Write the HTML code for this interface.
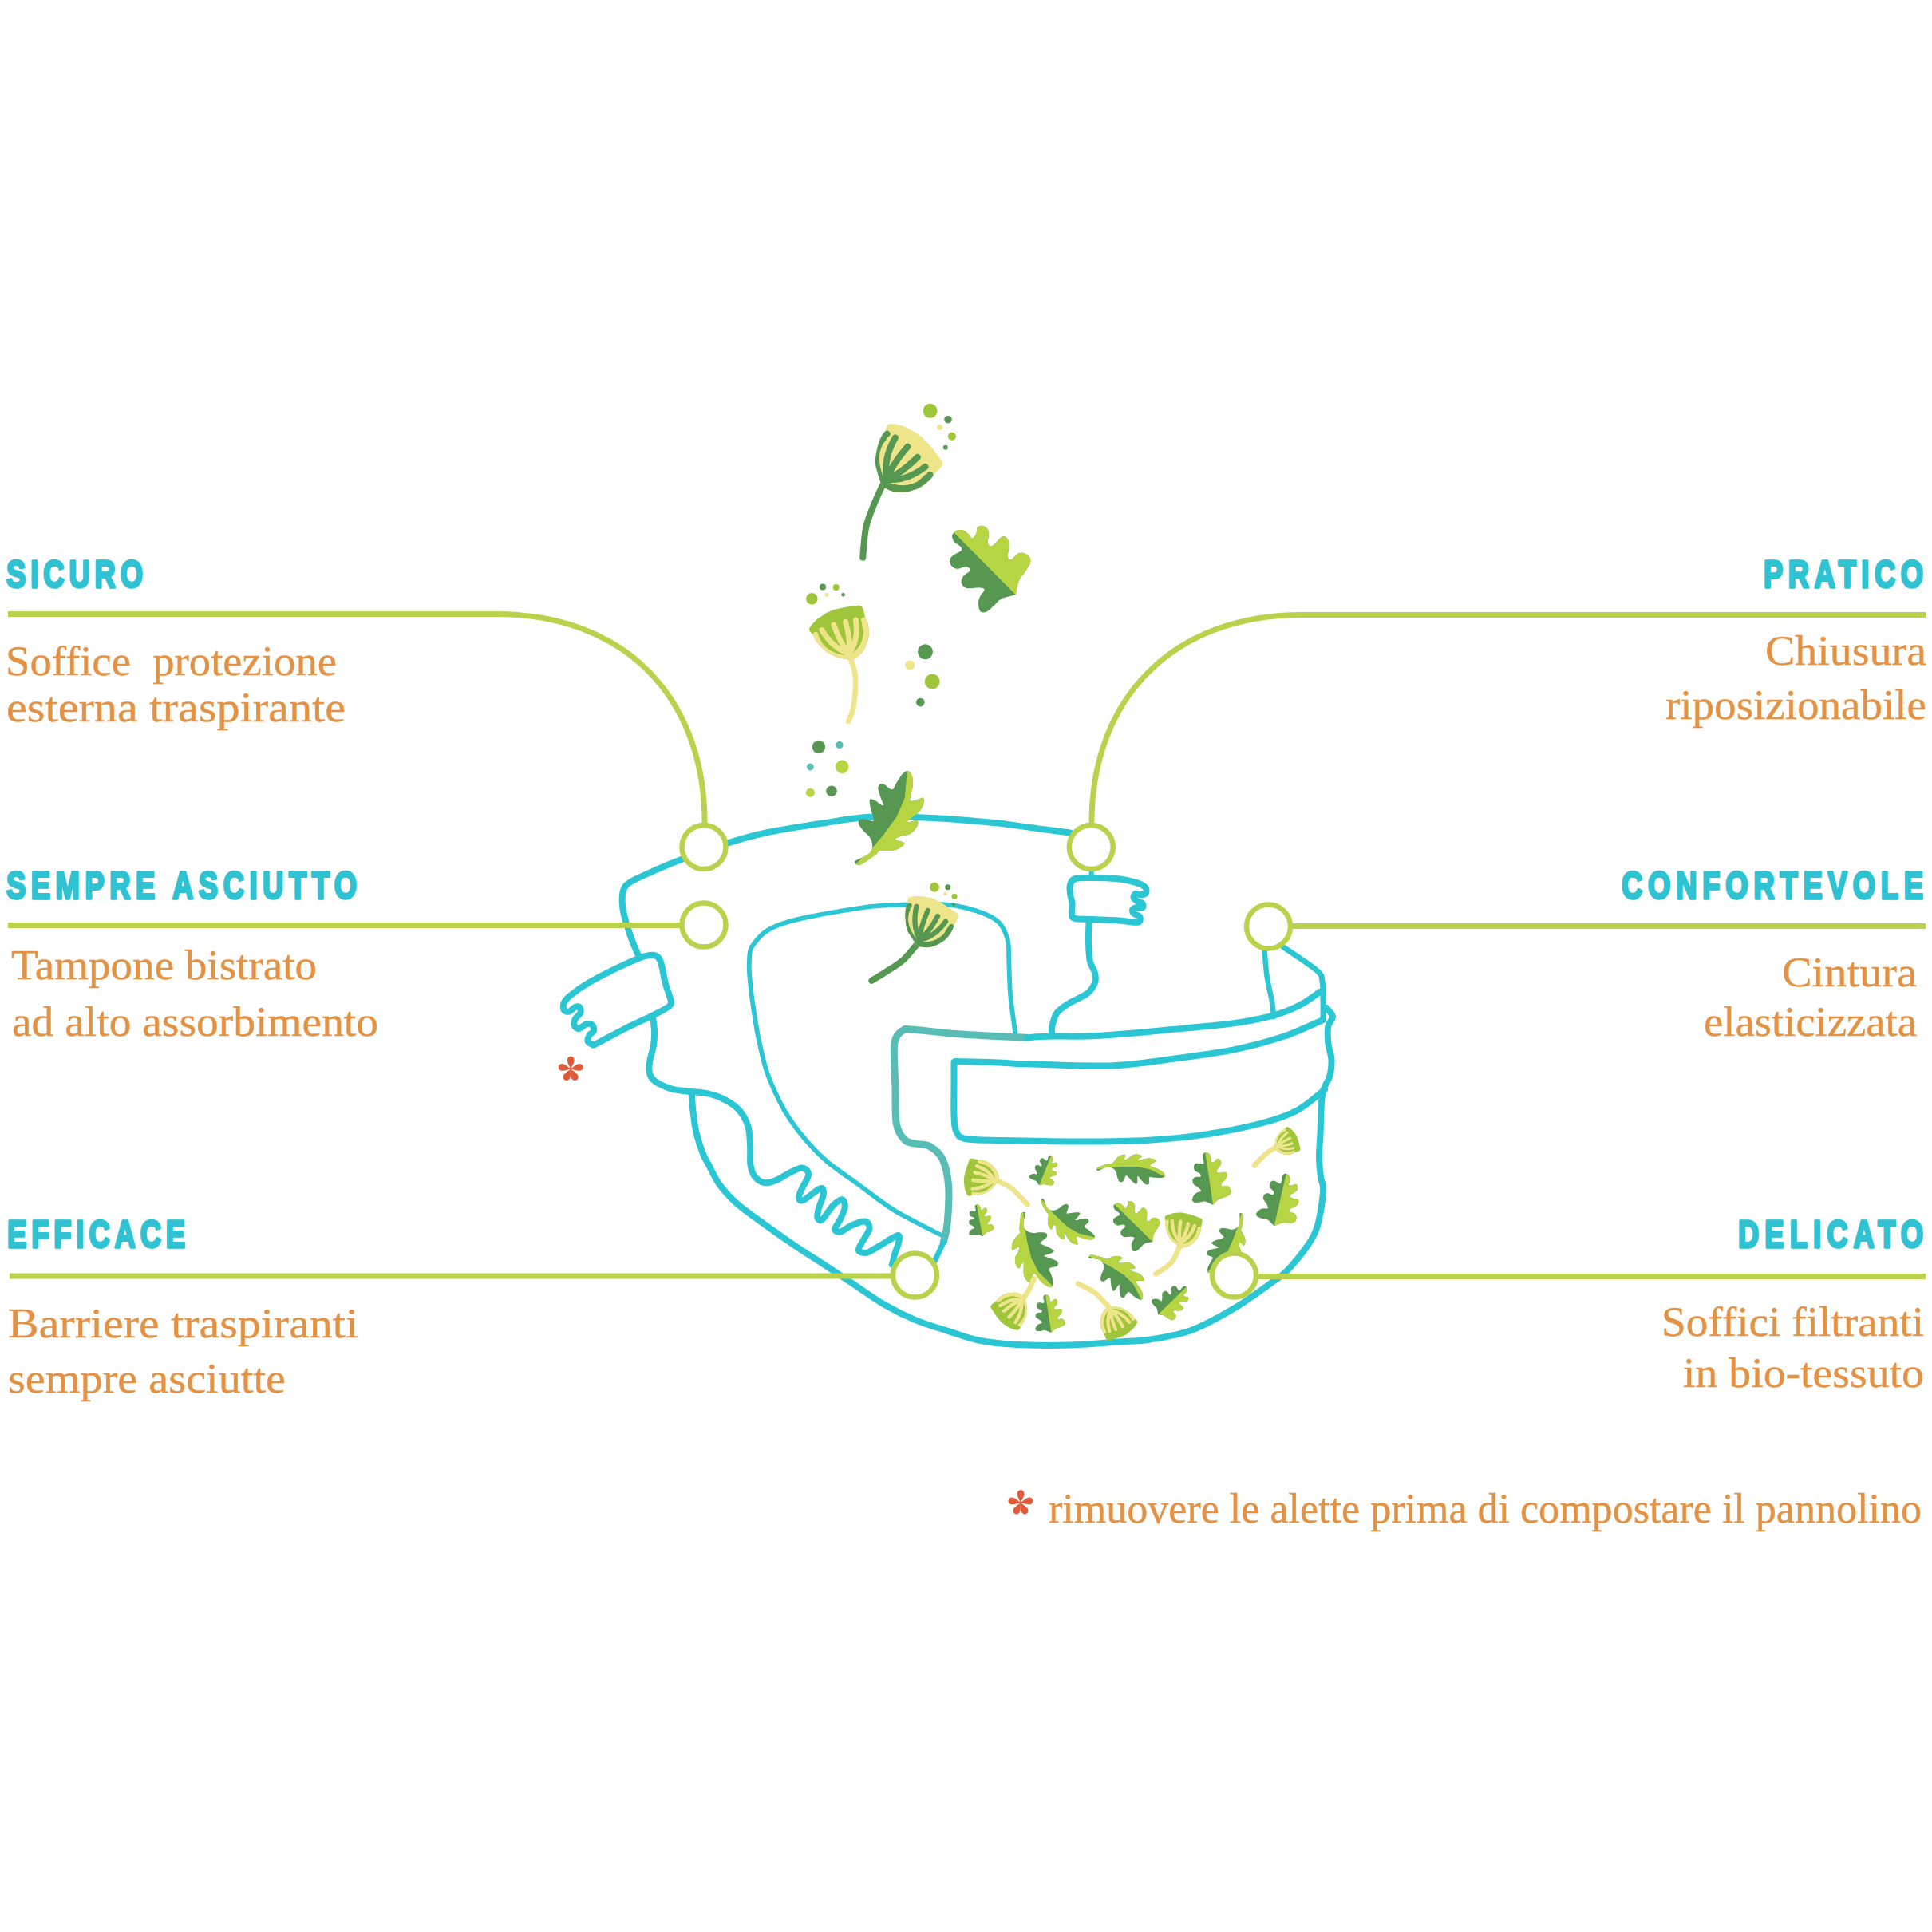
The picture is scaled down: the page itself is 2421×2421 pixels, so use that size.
<!DOCTYPE html>
<html><head><meta charset="utf-8">
<style>
html,body{margin:0;padding:0;background:#fff;}
body{width:2421px;height:2421px;overflow:hidden;}
svg{display:block;}
.h{font-family:"Liberation Sans",sans-serif;font-weight:bold;font-size:49px;fill:#2ec2d2;stroke:#2ec2d2;stroke-width:3.4;stroke-linejoin:round;}
.b{font-family:"Liberation Serif",serif;font-size:53px;fill:#e39244;stroke:#e39244;stroke-width:0.4;}
</style></head><body>
<svg width="2421" height="2421" viewBox="0 0 2421 2421">

<g class="h">
<text transform="translate(8,736) scale(0.74,1)" x="0" y="0" textLength="231.1" lengthAdjust="spacing">SICURO</text>
<text transform="translate(8,1126) scale(0.74,1)" x="0" y="0" textLength="593.2" lengthAdjust="spacing">SEMPRE ASCIUTTO</text>
<text transform="translate(9,1563) scale(0.74,1)" x="0" y="0" textLength="301.4" lengthAdjust="spacing">EFFICACE</text>
<text transform="translate(2210,736) scale(0.74,1)" x="0" y="0" textLength="270.3" lengthAdjust="spacing">PRATICO</text>
<text transform="translate(2032,1126) scale(0.74,1)" x="0" y="0" textLength="510.8" lengthAdjust="spacing">CONFORTEVOLE</text>
<text transform="translate(2178,1563) scale(0.74,1)" x="0" y="0" textLength="313.5" lengthAdjust="spacing">DELICATO</text>
</g>
<g class="b">
<text x="7" y="846" textLength="415" lengthAdjust="spacingAndGlyphs" xml:space="preserve">Soffice  protezione</text>
<text x="8" y="904" textLength="425" lengthAdjust="spacingAndGlyphs">esterna traspirante</text>
<text x="14" y="1227" textLength="383" lengthAdjust="spacingAndGlyphs">Tampone bistrato</text>
<text x="15" y="1298" textLength="459" lengthAdjust="spacingAndGlyphs">ad alto assorbimento</text>
<text x="10" y="1676" textLength="439" lengthAdjust="spacingAndGlyphs">Barriere traspiranti</text>
<text x="10" y="1745" textLength="348" lengthAdjust="spacingAndGlyphs">sempre asciutte</text>
<text x="2212" y="833" textLength="202" lengthAdjust="spacingAndGlyphs">Chiusura</text>
<text x="2087" y="901" textLength="327" lengthAdjust="spacingAndGlyphs">riposizionabile</text>
<text x="2233" y="1236" textLength="169" lengthAdjust="spacingAndGlyphs">Cintura</text>
<text x="2135" y="1298" textLength="267" lengthAdjust="spacingAndGlyphs">elasticizzata</text>
<text x="2082" y="1674" textLength="329" lengthAdjust="spacingAndGlyphs">Soffici filtranti</text>
<text x="2109" y="1738" textLength="302" lengthAdjust="spacingAndGlyphs">in bio-tessuto</text>
<text x="1314" y="1908" textLength="1094" lengthAdjust="spacingAndGlyphs">rimuovere le alette prima di compostare il pannolino</text>
</g>
<g transform="translate(1279.0,1883.0) scale(1.107)"><path transform="rotate(0)" d="M0,0 C-1.2,-3 -4,-7 -4,-10.2 A4,4 0 0 1 4,-10.2 C4,-7 1.2,-3 0,0Z" fill="#e05a3a"/><path transform="rotate(79)" d="M0,0 C-1.2,-3 -4,-7 -4,-10.2 A4,4 0 0 1 4,-10.2 C4,-7 1.2,-3 0,0Z" fill="#e05a3a"/><path transform="rotate(-79)" d="M0,0 C-1.2,-3 -4,-7 -4,-10.2 A4,4 0 0 1 4,-10.2 C4,-7 1.2,-3 0,0Z" fill="#e05a3a"/><path transform="rotate(153)" d="M0,0 C-1.2,-3 -4,-7 -4,-10.2 A4,4 0 0 1 4,-10.2 C4,-7 1.2,-3 0,0Z" fill="#e05a3a"/><path transform="rotate(-153)" d="M0,0 C-1.2,-3 -4,-7 -4,-10.2 A4,4 0 0 1 4,-10.2 C4,-7 1.2,-3 0,0Z" fill="#e05a3a"/><circle r="1.6" fill="#e05a3a"/></g>
<g transform="translate(715.2,1339.5) scale(1.107)"><path transform="rotate(0)" d="M0,0 C-1.2,-3 -4,-7 -4,-10.2 A4,4 0 0 1 4,-10.2 C4,-7 1.2,-3 0,0Z" fill="#e05a3a"/><path transform="rotate(79)" d="M0,0 C-1.2,-3 -4,-7 -4,-10.2 A4,4 0 0 1 4,-10.2 C4,-7 1.2,-3 0,0Z" fill="#e05a3a"/><path transform="rotate(-79)" d="M0,0 C-1.2,-3 -4,-7 -4,-10.2 A4,4 0 0 1 4,-10.2 C4,-7 1.2,-3 0,0Z" fill="#e05a3a"/><path transform="rotate(153)" d="M0,0 C-1.2,-3 -4,-7 -4,-10.2 A4,4 0 0 1 4,-10.2 C4,-7 1.2,-3 0,0Z" fill="#e05a3a"/><path transform="rotate(-153)" d="M0,0 C-1.2,-3 -4,-7 -4,-10.2 A4,4 0 0 1 4,-10.2 C4,-7 1.2,-3 0,0Z" fill="#e05a3a"/><circle r="1.6" fill="#e05a3a"/></g>
<defs><clipPath id="oakR"><rect x="0" y="-80" width="80" height="160"/></clipPath><clipPath id="aruR"><path d="M0.0,-90.0 L-0.2,-49.3 L10.0,-26.0 L11.8,-6.8 L9.0,14.9 L5.5,31.8 L-0.0,50.0 L0.0,90.0 L80.0,90.0 L80.0,-90.0 Z"/></clipPath></defs>
<path d="M1106.0,608.0 C1104.0,612.5 1097.5,626.0 1094.0,635.0 C1090.5,644.0 1087.1,651.4 1085.0,662.0 C1082.9,672.6 1081.8,692.5 1081.2,698.6" fill="none" stroke="#569852" stroke-width="8" stroke-linecap="round"/>
<g transform="translate(1107.1,605.4) rotate(42.0) scale(1.086)"><path d="M-38.1,-44.7 C-38.6,-47.5 -42.5,-51.8 -40.9,-54.9 C-39.3,-58.0 -32.5,-61.2 -28.6,-63.2 C-24.7,-65.2 -21.5,-65.7 -17.7,-66.7 C-13.9,-67.7 -10.2,-68.8 -5.7,-69.0 C-1.2,-69.2 3.9,-68.8 9.1,-68.2 C14.3,-67.6 21.1,-66.7 25.7,-65.5 C30.3,-64.3 34.8,-64.9 36.6,-61.2 C38.4,-57.5 36.3,-47.4 36.4,-43.4 C36.5,-39.4 37.5,-40.2 37.2,-37.0 C36.9,-33.8 36.0,-28.0 34.7,-24.2 C33.4,-20.4 31.4,-17.4 29.4,-14.4 C27.4,-11.4 25.2,-8.6 22.6,-6.2 C20.1,-3.8 16.8,-1.5 14.1,0.0 C11.4,1.5 9.0,2.1 6.6,2.6 C4.2,3.1 3.6,4.5 -0.2,3.0 C-4.0,1.5 -12.3,-3.7 -16.4,-6.4 C-20.5,-9.1 -21.8,-9.8 -24.6,-13.2 C-27.4,-16.6 -30.9,-22.5 -33.1,-26.6 C-35.3,-30.7 -36.9,-35.0 -37.7,-38.0 C-38.5,-41.0 -37.6,-41.9 -38.1,-44.7Z" fill="#eee48a"/><path d="M-38.1,-44.7 C-39.1,-44.0 -38.5,-41.0 -37.7,-38.0 C-36.9,-35.0 -35.3,-30.7 -33.1,-26.6 C-30.9,-22.5 -27.4,-16.6 -24.6,-13.2 C-21.8,-9.8 -20.5,-9.1 -16.4,-6.4 C-12.3,-3.7 -4.0,1.5 -0.2,3.0 C3.6,4.5 4.2,3.1 6.6,2.6 C9.0,2.1 11.4,1.5 14.1,0.0 C16.8,-1.5 20.1,-3.8 22.6,-6.2 C25.2,-8.6 27.4,-11.4 29.4,-14.4 C31.4,-17.4 33.4,-20.4 34.7,-24.2 C36.0,-28.0 36.9,-33.8 37.2,-37.0 C37.5,-40.2 37.6,-42.7 36.4,-43.4 C35.2,-44.1 31.4,-43.6 30.0,-41.0 C28.6,-38.4 29.3,-32.0 28.0,-28.0 C26.7,-24.0 24.5,-20.2 22.0,-17.0 C19.5,-13.8 16.0,-11.0 13.0,-9.0 C10.0,-7.0 7.2,-5.5 4.0,-5.0 C0.8,-4.5 -2.7,-4.8 -6.0,-6.0 C-9.3,-7.2 -12.8,-9.5 -16.0,-12.0 C-19.2,-14.5 -22.7,-17.8 -25.0,-21.0 C-27.3,-24.2 -28.8,-27.5 -30.0,-31.0 C-31.2,-34.5 -30.6,-39.7 -32.0,-42.0 C-33.4,-44.3 -37.1,-45.4 -38.1,-44.7Z" fill="#569852"/><path d="M0,-6 Q-19.0,-20.0 -25.0,-48.1 M0,-6 Q-7.0,-22.0 -7.4,-49.8 M0,-6 Q8.0,-22.0 9.2,-48.5 M0,-6 Q18.0,-18.0 23.2,-46.3 M-35,-45 L-35,-45 M33.5,-43 L33.5,-43" fill="none" stroke="#569852" stroke-width="7.4" stroke-linecap="round"/></g>
<circle cx="1165.6" cy="514.8" r="9.0" fill="#9fc63a"/>
<circle cx="1188.0" cy="525.7" r="4.8" fill="#569852"/>
<circle cx="1177.7" cy="535.4" r="3.4" fill="#eee48a"/>
<circle cx="1193.0" cy="546.8" r="5.0" fill="#9fc63a"/>
<circle cx="1184.8" cy="560.7" r="3.0" fill="#569852"/>
<g transform="translate(1234.0,706.2) rotate(-44.8) scale(1.093,1.093)"><path d="M-0.0,-50.0 C1.6,-50.0 3.6,-49.9 5.2,-48.8 C6.8,-47.7 8.8,-45.8 9.7,-43.6 C10.6,-41.4 10.4,-37.8 10.5,-35.6 C10.6,-33.4 9.0,-31.1 10.1,-30.4 C11.2,-29.7 15.2,-30.4 17.3,-31.2 C19.4,-32.0 21.2,-34.9 23.0,-35.2 C24.8,-35.5 27.0,-34.7 28.2,-33.2 C29.4,-31.7 30.5,-28.6 30.2,-26.4 C29.9,-24.2 27.9,-21.9 26.2,-20.0 C24.5,-18.1 21.1,-16.9 19.8,-15.1 C18.5,-13.3 17.5,-10.3 18.6,-9.1 C19.7,-7.9 23.9,-8.0 26.3,-7.9 C28.7,-7.8 31.2,-8.7 33.1,-8.4 C35.0,-8.1 37.1,-7.5 37.9,-6.0 C38.6,-4.5 38.6,-1.3 37.6,0.9 C36.6,3.1 34.2,5.3 32.0,7.3 C29.8,9.2 25.6,10.8 24.3,12.6 C23.0,14.4 22.8,17.2 24.4,18.2 C25.9,19.2 31.1,17.9 33.6,18.5 C36.1,19.1 38.2,20.2 39.6,22.1 C41.0,24.0 42.0,27.5 41.7,29.8 C41.5,32.1 40.4,34.3 38.1,35.8 C35.8,37.3 31.7,38.0 27.7,39.0 C23.7,40.0 18.4,39.8 14.0,41.5 C9.7,43.2 3.9,47.8 1.6,49.2 C-0.7,50.6 1.1,50.3 -0.0,50.0 C-1.1,49.7 -2.2,48.9 -4.8,47.6 C-7.3,46.3 -11.6,43.0 -15.3,42.0 C-19.0,41.0 -23.1,42.0 -26.9,41.7 C-30.6,41.5 -35.2,41.6 -37.8,40.5 C-40.3,39.4 -42.3,37.6 -42.2,35.3 C-42.1,33.0 -39.1,29.0 -37.0,26.9 C-34.9,24.8 -32.3,23.7 -29.8,22.8 C-27.3,21.9 -23.6,22.3 -22.2,21.6 C-20.8,20.9 -20.7,19.9 -21.4,18.4 C-22.1,16.9 -24.1,15.0 -26.3,12.8 C-28.5,10.6 -33.3,7.8 -34.7,5.2 C-36.1,2.6 -35.9,-0.9 -34.8,-2.9 C-33.7,-4.9 -31.0,-6.4 -28.3,-6.9 C-25.6,-7.4 -20.7,-5.8 -18.7,-6.1 C-16.7,-6.4 -16.4,-7.4 -16.3,-8.6 C-16.2,-9.8 -16.5,-11.3 -18.3,-13.0 C-20.1,-14.7 -25.5,-16.3 -27.2,-18.6 C-28.9,-20.9 -29.1,-24.7 -28.4,-27.0 C-27.7,-29.3 -25.5,-31.5 -23.2,-32.2 C-20.9,-32.9 -17.3,-31.6 -14.8,-31.1 C-12.3,-30.7 -9.9,-29.1 -8.4,-29.5 C-6.9,-29.9 -6.2,-31.3 -6.0,-33.5 C-5.8,-35.7 -7.5,-40.2 -7.2,-42.7 C-6.9,-45.2 -5.6,-47.6 -4.4,-48.8 C-3.2,-50.0 -1.6,-50.0 -0.0,-50.0Z" fill="#569852"/><path d="M-0.0,-50.0 C1.6,-50.0 3.6,-49.9 5.2,-48.8 C6.8,-47.7 8.8,-45.8 9.7,-43.6 C10.6,-41.4 10.4,-37.8 10.5,-35.6 C10.6,-33.4 9.0,-31.1 10.1,-30.4 C11.2,-29.7 15.2,-30.4 17.3,-31.2 C19.4,-32.0 21.2,-34.9 23.0,-35.2 C24.8,-35.5 27.0,-34.7 28.2,-33.2 C29.4,-31.7 30.5,-28.6 30.2,-26.4 C29.9,-24.2 27.9,-21.9 26.2,-20.0 C24.5,-18.1 21.1,-16.9 19.8,-15.1 C18.5,-13.3 17.5,-10.3 18.6,-9.1 C19.7,-7.9 23.9,-8.0 26.3,-7.9 C28.7,-7.8 31.2,-8.7 33.1,-8.4 C35.0,-8.1 37.1,-7.5 37.9,-6.0 C38.6,-4.5 38.6,-1.3 37.6,0.9 C36.6,3.1 34.2,5.3 32.0,7.3 C29.8,9.2 25.6,10.8 24.3,12.6 C23.0,14.4 22.8,17.2 24.4,18.2 C25.9,19.2 31.1,17.9 33.6,18.5 C36.1,19.1 38.2,20.2 39.6,22.1 C41.0,24.0 42.0,27.5 41.7,29.8 C41.5,32.1 40.4,34.3 38.1,35.8 C35.8,37.3 31.7,38.0 27.7,39.0 C23.7,40.0 18.4,39.8 14.0,41.5 C9.7,43.2 3.9,47.8 1.6,49.2 C-0.7,50.6 1.1,50.3 -0.0,50.0 C-1.1,49.7 -2.2,48.9 -4.8,47.6 C-7.3,46.3 -11.6,43.0 -15.3,42.0 C-19.0,41.0 -23.1,42.0 -26.9,41.7 C-30.6,41.5 -35.2,41.6 -37.8,40.5 C-40.3,39.4 -42.3,37.6 -42.2,35.3 C-42.1,33.0 -39.1,29.0 -37.0,26.9 C-34.9,24.8 -32.3,23.7 -29.8,22.8 C-27.3,21.9 -23.6,22.3 -22.2,21.6 C-20.8,20.9 -20.7,19.9 -21.4,18.4 C-22.1,16.9 -24.1,15.0 -26.3,12.8 C-28.5,10.6 -33.3,7.8 -34.7,5.2 C-36.1,2.6 -35.9,-0.9 -34.8,-2.9 C-33.7,-4.9 -31.0,-6.4 -28.3,-6.9 C-25.6,-7.4 -20.7,-5.8 -18.7,-6.1 C-16.7,-6.4 -16.4,-7.4 -16.3,-8.6 C-16.2,-9.8 -16.5,-11.3 -18.3,-13.0 C-20.1,-14.7 -25.5,-16.3 -27.2,-18.6 C-28.9,-20.9 -29.1,-24.7 -28.4,-27.0 C-27.7,-29.3 -25.5,-31.5 -23.2,-32.2 C-20.9,-32.9 -17.3,-31.6 -14.8,-31.1 C-12.3,-30.7 -9.9,-29.1 -8.4,-29.5 C-6.9,-29.9 -6.2,-31.3 -6.0,-33.5 C-5.8,-35.7 -7.5,-40.2 -7.2,-42.7 C-6.9,-45.2 -5.6,-47.6 -4.4,-48.8 C-3.2,-50.0 -1.6,-50.0 -0.0,-50.0Z" fill="#b7d543" clip-path="url(#oakR)"/></g>
<path d="M1066.0,825.5 C1067.0,829.4 1071.4,838.9 1072.0,849.0 C1072.6,859.1 1070.9,877.2 1069.4,886.3 C1067.9,895.4 1064.2,900.8 1063.2,903.7" fill="none" stroke="#eee48a" stroke-width="6.5" stroke-linecap="round"/>
<g transform="translate(1065.7,824.2) rotate(-18.5) scale(0.920)"><path d="M-38.1,-44.7 C-38.6,-47.5 -42.5,-51.8 -40.9,-54.9 C-39.3,-58.0 -32.5,-61.2 -28.6,-63.2 C-24.7,-65.2 -21.5,-65.7 -17.7,-66.7 C-13.9,-67.7 -10.2,-68.8 -5.7,-69.0 C-1.2,-69.2 3.9,-68.8 9.1,-68.2 C14.3,-67.6 21.1,-66.7 25.7,-65.5 C30.3,-64.3 34.8,-64.9 36.6,-61.2 C38.4,-57.5 36.3,-47.4 36.4,-43.4 C36.5,-39.4 37.5,-40.2 37.2,-37.0 C36.9,-33.8 36.0,-28.0 34.7,-24.2 C33.4,-20.4 31.4,-17.4 29.4,-14.4 C27.4,-11.4 25.2,-8.6 22.6,-6.2 C20.1,-3.8 16.8,-1.5 14.1,0.0 C11.4,1.5 9.0,2.1 6.6,2.6 C4.2,3.1 3.6,4.5 -0.2,3.0 C-4.0,1.5 -12.3,-3.7 -16.4,-6.4 C-20.5,-9.1 -21.8,-9.8 -24.6,-13.2 C-27.4,-16.6 -30.9,-22.5 -33.1,-26.6 C-35.3,-30.7 -36.9,-35.0 -37.7,-38.0 C-38.5,-41.0 -37.6,-41.9 -38.1,-44.7Z" fill="#9fc63a"/><path d="M-38.1,-44.7 C-39.1,-44.0 -38.5,-41.0 -37.7,-38.0 C-36.9,-35.0 -35.3,-30.7 -33.1,-26.6 C-30.9,-22.5 -27.4,-16.6 -24.6,-13.2 C-21.8,-9.8 -20.5,-9.1 -16.4,-6.4 C-12.3,-3.7 -4.0,1.5 -0.2,3.0 C3.6,4.5 4.2,3.1 6.6,2.6 C9.0,2.1 11.4,1.5 14.1,0.0 C16.8,-1.5 20.1,-3.8 22.6,-6.2 C25.2,-8.6 27.4,-11.4 29.4,-14.4 C31.4,-17.4 33.4,-20.4 34.7,-24.2 C36.0,-28.0 36.9,-33.8 37.2,-37.0 C37.5,-40.2 37.6,-42.7 36.4,-43.4 C35.2,-44.1 31.4,-43.6 30.0,-41.0 C28.6,-38.4 29.3,-32.0 28.0,-28.0 C26.7,-24.0 24.5,-20.2 22.0,-17.0 C19.5,-13.8 16.0,-11.0 13.0,-9.0 C10.0,-7.0 7.2,-5.5 4.0,-5.0 C0.8,-4.5 -2.7,-4.8 -6.0,-6.0 C-9.3,-7.2 -12.8,-9.5 -16.0,-12.0 C-19.2,-14.5 -22.7,-17.8 -25.0,-21.0 C-27.3,-24.2 -28.8,-27.5 -30.0,-31.0 C-31.2,-34.5 -30.6,-39.7 -32.0,-42.0 C-33.4,-44.3 -37.1,-45.4 -38.1,-44.7Z" fill="#eee48a"/><path d="M0,-6 Q-19.0,-20.0 -25.0,-48.1 M0,-6 Q-7.0,-22.0 -7.4,-49.8 M0,-6 Q8.0,-22.0 9.2,-48.5 M0,-6 Q18.0,-18.0 23.2,-46.3 M-35,-45 L-35,-45 M33.5,-43 L33.5,-43" fill="none" stroke="#eee48a" stroke-width="7.4" stroke-linecap="round"/></g>
<circle cx="1017.3" cy="750.3" r="7.2" fill="#9fc63a"/>
<circle cx="1031.0" cy="735.4" r="4.0" fill="#569852"/>
<circle cx="1047.7" cy="736.0" r="4.0" fill="#9fc63a"/>
<circle cx="1035.9" cy="745.3" r="2.5" fill="#eee48a"/>
<circle cx="1056.6" cy="745.3" r="2.3" fill="#569852"/>
<circle cx="1159.5" cy="816.8" r="9.5" fill="#569852"/>
<circle cx="1140.2" cy="833.5" r="6.0" fill="#eee48a"/>
<circle cx="1168.2" cy="854.0" r="9.5" fill="#9fc63a"/>
<circle cx="1153.3" cy="880.1" r="5.3" fill="#569852"/>
<circle cx="1026.0" cy="936.0" r="8.2" fill="#569852"/>
<circle cx="1052.0" cy="933.5" r="4.6" fill="#58bdb5"/>
<circle cx="1015.4" cy="960.9" r="4.5" fill="#58bdb5"/>
<circle cx="1055.2" cy="960.9" r="8.4" fill="#b7d543"/>
<circle cx="1015.4" cy="993.2" r="5.5" fill="#b7d543"/>
<circle cx="1042.0" cy="991.3" r="6.8" fill="#569852"/>
<path d="M1341.0,1043.5 C1335.5,1042.8 1323.6,1041.4 1307.7,1039.3 C1291.8,1037.2 1269.8,1033.4 1245.6,1031.0 C1221.4,1028.6 1188.4,1026.0 1162.8,1024.8 C1137.2,1023.6 1114.0,1022.5 1091.8,1023.6 C1069.6,1024.8 1051.7,1028.4 1029.7,1031.7 C1007.7,1035.0 979.6,1039.4 960.0,1043.5 C940.4,1047.6 929.7,1050.9 912.2,1056.4 C894.7,1061.9 870.2,1071.0 855.2,1076.6 C840.2,1082.2 832.8,1085.3 822.1,1090.0 C811.4,1094.7 797.7,1100.6 791.0,1104.6 C784.3,1108.6 783.6,1110.4 781.7,1114.0 C779.8,1117.6 779.9,1121.7 779.7,1126.0 C779.5,1130.3 779.7,1134.2 780.7,1140.0 C781.7,1145.8 783.8,1153.6 785.9,1160.5 C788.0,1167.4 790.8,1175.3 793.1,1181.2 C795.4,1187.1 798.4,1193.5 799.5,1196.0" fill="none" stroke="#2ac6d3" stroke-width="8" stroke-linecap="round" stroke-linejoin="round"/>
<path d="M818.6,1196.8 C821.9,1197.3 824.1,1198.8 826.0,1201.4 C827.9,1204.0 828.5,1207.6 829.8,1212.6 C831.0,1217.6 832.0,1225.3 833.5,1231.2 C835.0,1237.1 837.8,1243.8 839.0,1248.0 C840.2,1252.2 841.3,1254.1 841.0,1256.4 C840.7,1258.7 840.9,1259.4 837.2,1262.0 C833.5,1264.6 827.6,1267.7 818.6,1272.2 C809.6,1276.7 795.0,1283.1 783.2,1289.0 C771.4,1294.9 754.6,1304.3 747.8,1307.6 C741.0,1310.9 744.1,1309.1 742.2,1308.6 C740.3,1308.1 737.2,1306.7 736.6,1304.8 C736.0,1302.9 737.2,1299.6 738.4,1297.4 C739.6,1295.2 743.4,1294.0 744.0,1291.8 C744.6,1289.6 743.8,1285.8 742.2,1284.4 C740.7,1283.0 737.5,1282.6 734.7,1283.4 C731.9,1284.2 727.9,1288.7 725.4,1289.0 C722.9,1289.3 720.6,1287.3 719.8,1285.3 C719.0,1283.3 719.5,1279.6 720.7,1276.9 C722.0,1274.2 726.4,1271.9 727.3,1269.4 C728.2,1266.9 727.4,1263.2 726.3,1262.0 C725.2,1260.8 722.9,1261.1 720.7,1262.0 C718.5,1262.9 715.6,1267.0 713.3,1267.6 C711.0,1268.2 707.9,1267.6 706.8,1265.7 C705.7,1263.8 705.4,1259.5 706.8,1256.4 C708.2,1253.3 710.2,1251.0 715.2,1247.0 C720.2,1243.0 728.4,1237.2 736.6,1232.2 C744.8,1227.2 755.2,1222.0 764.5,1217.3 C773.8,1212.6 785.5,1207.3 792.5,1204.2 C799.5,1201.1 802.1,1199.8 806.5,1198.6 C810.9,1197.4 815.4,1196.3 818.6,1196.8Z" fill="none" stroke="#2ac6d3" stroke-width="8" stroke-linecap="round" stroke-linejoin="round"/>
<path d="M817.6,1273.0 C818.0,1276.0 819.8,1284.9 820.0,1291.0 C820.2,1297.1 819.9,1303.7 819.0,1309.7 C818.1,1315.8 815.8,1322.1 814.8,1327.3 C813.8,1332.5 812.9,1336.7 813.3,1340.7 C813.6,1344.7 814.8,1348.2 816.9,1351.1 C819.0,1354.0 822.1,1356.0 826.2,1358.3 C830.4,1360.5 835.8,1363.0 841.8,1364.6 C847.8,1366.2 855.6,1366.8 862.5,1367.7 C869.4,1368.6 876.3,1368.3 883.2,1369.7 C890.1,1371.1 897.0,1372.6 903.9,1375.9 C910.8,1379.2 919.1,1383.7 924.6,1389.4 C930.1,1395.1 934.4,1402.3 937.0,1410.1 C939.6,1417.9 939.5,1427.7 940.1,1436.0 C940.7,1444.3 939.5,1453.6 940.5,1460.0 C941.5,1466.4 943.0,1470.8 946.0,1474.5 C949.0,1478.2 953.8,1481.5 958.3,1482.2 C962.8,1483.0 967.6,1481.1 972.8,1479.0 C978.0,1476.9 984.0,1472.3 989.4,1469.7 C994.8,1467.1 1001.0,1463.2 1005.0,1463.5 C1009.0,1463.8 1013.2,1467.5 1013.2,1471.8 C1013.2,1476.1 1007.0,1484.6 1004.9,1489.4 C1002.8,1494.2 1000.4,1498.4 1000.8,1500.8 C1001.1,1503.2 1002.5,1505.8 1007.0,1503.9 C1011.5,1502.0 1023.6,1490.6 1027.7,1489.4 C1031.8,1488.2 1032.2,1492.3 1031.8,1496.6 C1031.4,1500.9 1026.8,1510.3 1025.6,1515.3 C1024.4,1520.3 1023.7,1524.6 1024.6,1526.7 C1025.5,1528.8 1027.6,1530.4 1030.8,1527.7 C1034.0,1525.0 1039.8,1514.7 1043.9,1510.6 C1048.0,1506.5 1052.8,1502.8 1055.3,1503.2 C1057.8,1503.6 1059.1,1508.8 1058.7,1512.9 C1058.3,1517.0 1055.1,1523.2 1053.0,1527.7 C1050.9,1532.2 1046.2,1537.6 1046.2,1540.2 C1046.2,1542.8 1049.6,1544.3 1053.0,1543.6 C1056.4,1542.8 1061.6,1537.9 1066.7,1535.7 C1071.8,1533.5 1080.0,1529.9 1083.8,1530.5 C1087.6,1531.1 1089.7,1535.4 1089.5,1539.1 C1089.3,1542.8 1084.9,1548.2 1082.6,1552.8 C1080.3,1557.3 1075.2,1563.6 1075.8,1566.4 C1076.4,1569.2 1081.8,1570.5 1086.0,1569.8 C1090.2,1569.0 1094.3,1565.5 1100.8,1561.9 C1107.3,1558.3 1120.6,1549.0 1124.8,1548.2 C1129.0,1547.4 1126.5,1553.5 1125.9,1557.3 C1125.3,1561.1 1122.6,1566.5 1121.3,1571.0 C1120.0,1575.5 1118.5,1582.3 1117.9,1584.6" fill="none" stroke="#2ac6d3" stroke-width="8" stroke-linecap="round" stroke-linejoin="round"/>
<path d="M1662.0,1263.0 C1663.3,1264.8 1669.6,1270.2 1670.0,1274.0 C1670.4,1277.8 1665.2,1280.5 1664.3,1286.0 C1663.3,1291.5 1663.6,1300.0 1664.3,1307.0 C1665.0,1314.0 1668.2,1321.2 1668.5,1328.0 C1668.8,1334.8 1668.2,1341.5 1666.4,1348.0 C1664.7,1354.5 1659.8,1360.0 1658.0,1367.0 C1656.2,1374.0 1656.1,1381.0 1655.5,1390.0 C1654.9,1399.0 1654.9,1411.0 1654.5,1421.0 C1654.1,1431.0 1652.9,1441.0 1653.0,1450.0 C1653.1,1459.0 1654.2,1467.7 1655.0,1475.0 C1655.8,1482.3 1659.2,1482.3 1658.0,1494.0 C1656.8,1505.7 1654.7,1529.1 1647.7,1544.9 C1640.7,1560.7 1625.7,1578.1 1616.0,1588.9 C1606.3,1599.8 1601.3,1601.5 1589.6,1610.0 C1577.9,1618.5 1561.7,1630.5 1545.6,1640.0 C1529.5,1649.5 1510.4,1660.5 1492.8,1667.0 C1475.2,1673.5 1454.1,1676.4 1440.0,1678.7 C1425.9,1681.0 1424.7,1679.9 1408.4,1681.0 C1392.1,1682.1 1364.3,1684.8 1342.2,1685.5 C1320.1,1686.2 1295.0,1685.9 1276.0,1685.0 C1257.0,1684.1 1243.1,1682.8 1228.4,1680.0 C1213.7,1677.2 1201.5,1672.2 1188.0,1667.9 C1174.5,1663.6 1161.2,1660.0 1147.7,1654.4 C1134.2,1648.8 1120.8,1642.1 1107.3,1634.2 C1093.8,1626.3 1079.4,1615.6 1066.9,1607.3 C1054.4,1599.0 1044.5,1592.5 1032.5,1584.6 C1020.5,1576.7 1007.8,1569.0 994.6,1560.0 C981.4,1551.0 965.3,1539.6 953.2,1530.8 C941.1,1522.0 930.7,1514.8 922.1,1507.0 C913.5,1499.2 907.0,1492.0 901.4,1484.2 C895.8,1476.4 891.7,1466.3 888.3,1460.0 C884.9,1453.7 883.7,1452.9 881.1,1446.3 C878.5,1439.7 874.9,1429.1 872.8,1420.5 C870.7,1411.9 869.7,1403.1 868.7,1394.6 C867.7,1386.1 867.0,1373.8 866.6,1369.7" fill="none" stroke="#2ac6d3" stroke-width="8" stroke-linecap="round" stroke-linejoin="round"/>
<path d="M1272.5,1296.0 C1271.5,1288.1 1267.7,1263.2 1266.3,1248.4 C1264.9,1233.6 1265.0,1219.1 1264.3,1207.0 C1263.6,1194.9 1265.3,1185.3 1262.2,1176.0 C1259.1,1166.7 1256.6,1158.0 1245.6,1151.1 C1234.6,1144.2 1213.3,1137.5 1196.0,1134.6 C1178.7,1131.7 1161.3,1133.0 1142.0,1133.5 C1122.7,1134.0 1107.0,1133.5 1080.0,1137.5 C1053.0,1141.5 1002.7,1150.0 980.2,1157.4 C957.7,1164.9 951.9,1173.9 945.0,1182.2 C938.1,1190.5 939.5,1197.4 938.8,1207.0 C938.1,1216.6 940.0,1229.7 941.0,1240.0 C942.0,1250.3 943.4,1258.8 945.0,1269.0 C946.6,1279.2 947.9,1289.1 950.5,1301.4 C953.1,1313.7 956.5,1329.9 960.8,1342.8 C965.1,1355.7 971.4,1369.0 976.3,1379.0 C981.2,1389.0 984.4,1394.6 990.0,1402.9 C995.6,1411.2 1002.4,1420.3 1010.1,1429.0 C1017.8,1437.7 1025.1,1446.0 1036.0,1455.2 C1046.9,1464.4 1061.0,1473.6 1075.3,1484.0 C1089.6,1494.4 1104.1,1506.6 1121.9,1517.4 C1139.7,1528.2 1172.0,1543.7 1182.0,1549.0" fill="none" stroke="#2ac6d3" stroke-width="5.8" stroke-linecap="round" stroke-linejoin="round"/>
<path d="M1287.0,1300.2 C1273.2,1299.5 1228.4,1297.7 1204.2,1296.0 C1180.0,1294.3 1154.1,1290.8 1142.0,1290.0 C1129.9,1289.2 1135.0,1289.3 1131.8,1291.0 C1128.6,1292.7 1124.9,1295.9 1123.0,1300.0 C1121.1,1304.1 1120.5,1305.2 1120.3,1315.5 C1120.1,1325.8 1121.4,1346.5 1121.9,1362.0 C1122.4,1377.5 1121.3,1397.5 1123.4,1408.7 C1125.5,1419.9 1129.9,1424.8 1134.3,1428.9 C1138.7,1433.0 1144.6,1432.2 1149.8,1433.5 C1155.0,1434.8 1160.1,1433.5 1165.3,1436.6 C1170.5,1439.7 1177.0,1443.9 1180.9,1452.2 C1184.8,1460.5 1187.6,1472.8 1188.6,1486.3 C1189.6,1499.8 1188.1,1521.2 1187.1,1532.9 C1186.1,1544.6 1183.2,1552.3 1182.4,1556.2" fill="none" stroke="#58bdb5" stroke-width="9" stroke-linecap="round" stroke-linejoin="round"/>
<path d="M1182.4,1556.2 C1180.6,1560.1 1174.7,1573.5 1171.5,1579.5 C1168.3,1585.5 1164.4,1589.9 1163.0,1592.0" fill="none" stroke="#2ac6d3" stroke-width="7" stroke-linecap="round" stroke-linejoin="round"/>
<path d="M1287.0,1300.2 C1292.2,1299.9 1303.4,1299.0 1318.0,1298.6 C1332.6,1298.2 1350.2,1299.3 1374.5,1298.0 C1398.8,1296.7 1434.9,1293.1 1463.5,1290.5 C1492.1,1287.9 1523.9,1285.3 1546.3,1282.2 C1568.7,1279.1 1584.2,1275.6 1598.0,1271.8 C1611.8,1268.0 1619.9,1264.2 1629.2,1259.4 C1638.5,1254.6 1649.9,1245.7 1654.0,1242.9" fill="none" stroke="#2ac6d3" stroke-width="8" stroke-linecap="round" stroke-linejoin="round"/>
<path d="M1658.0,1278.0 C1649.7,1281.5 1627.0,1292.6 1608.4,1298.8 C1589.8,1305.0 1570.5,1310.5 1546.3,1315.3 C1522.1,1320.1 1489.5,1324.3 1463.5,1327.7 C1437.5,1331.1 1420.0,1334.5 1390.6,1335.4 C1361.2,1336.3 1312.1,1334.0 1287.0,1333.3 C1261.9,1332.6 1255.0,1331.5 1240.0,1331.0 C1225.0,1330.5 1204.2,1330.2 1197.0,1330.0" fill="none" stroke="#2ac6d3" stroke-width="8" stroke-linecap="round" stroke-linejoin="round"/>
<path d="M1195.5,1331.0 C1195.5,1335.8 1195.5,1348.8 1195.5,1360.0 C1195.5,1371.2 1195.1,1388.5 1195.5,1398.0 C1195.9,1407.5 1195.6,1412.2 1198.0,1417.0 C1200.4,1421.8 1199.8,1425.0 1210.0,1427.0 C1220.2,1429.0 1234.6,1428.4 1259.4,1429.0 C1284.2,1429.6 1328.7,1430.5 1358.8,1430.5 C1388.9,1430.5 1414.7,1430.2 1440.0,1428.7 C1465.3,1427.2 1486.9,1425.1 1510.4,1421.6 C1533.9,1418.1 1561.7,1412.5 1580.8,1407.5 C1599.9,1402.5 1611.7,1398.7 1624.9,1391.7 C1638.1,1384.7 1654.2,1369.7 1660.0,1365.3" fill="none" stroke="#2ac6d3" stroke-width="8" stroke-linecap="round" stroke-linejoin="round"/>
<path d="M1584.6,1191.0 C1585.1,1196.5 1586.1,1213.5 1587.7,1224.2 C1589.3,1234.9 1592.6,1247.0 1594.0,1255.3 C1595.4,1263.6 1595.7,1270.9 1596.0,1274.0" fill="none" stroke="#2ac6d3" stroke-width="6.5" stroke-linecap="round" stroke-linejoin="round"/>
<path d="M1608.4,1187.0 C1615.3,1191.8 1641.8,1208.8 1649.9,1216.0 C1658.0,1223.2 1655.7,1223.5 1657.0,1230.0 C1658.3,1236.5 1657.8,1247.0 1658.0,1255.0 C1658.2,1263.0 1658.0,1274.2 1658.0,1278.0" fill="none" stroke="#2ac6d3" stroke-width="7" stroke-linecap="round" stroke-linejoin="round"/>
<path d="M1347.2,1101.1 C1351.8,1099.6 1359.6,1099.9 1368.3,1099.9 C1377.0,1099.9 1390.1,1100.1 1399.4,1101.1 C1408.7,1102.1 1418.2,1104.2 1424.2,1106.1 C1430.2,1108.0 1433.5,1110.0 1435.4,1112.3 C1437.3,1114.6 1436.6,1118.3 1435.4,1119.8 C1434.2,1121.2 1430.1,1121.0 1428.0,1121.0 C1425.9,1121.0 1424.2,1119.2 1423.0,1119.8 C1421.8,1120.4 1420.1,1123.0 1420.5,1124.7 C1420.9,1126.4 1423.6,1128.5 1425.5,1129.7 C1427.4,1131.0 1430.7,1131.0 1431.7,1132.2 C1432.7,1133.4 1433.0,1136.3 1431.7,1137.1 C1430.5,1137.9 1426.3,1136.7 1424.2,1137.1 C1422.1,1137.5 1419.9,1138.3 1419.3,1139.6 C1418.7,1140.8 1419.0,1143.1 1420.5,1144.6 C1422.0,1146.0 1426.8,1146.6 1428.0,1148.3 C1429.2,1150.0 1429.0,1153.2 1428.0,1154.5 C1427.0,1155.8 1426.5,1156.0 1421.7,1155.8 C1416.9,1155.6 1408.3,1153.9 1399.4,1153.3 C1390.5,1152.7 1377.2,1152.4 1368.3,1152.0 C1359.4,1151.6 1350.2,1152.2 1346.0,1150.8 C1341.8,1149.4 1343.3,1146.5 1342.9,1143.4 C1342.5,1140.3 1343.8,1136.1 1343.5,1132.2 C1343.2,1128.3 1341.4,1123.7 1341.0,1119.8 C1340.6,1115.9 1340.0,1111.7 1341.0,1108.6 C1342.0,1105.5 1342.7,1102.5 1347.2,1101.1Z" fill="none" stroke="#2ac6d3" stroke-width="8" stroke-linecap="round" stroke-linejoin="round"/>
<path d="M1367.7,1091 V1100" stroke="#2ac6d3" stroke-width="6"/>
<path d="M1364.6,1153.3 C1364.5,1157.7 1363.8,1170.9 1364.0,1179.4 C1364.2,1187.9 1364.5,1197.6 1365.8,1204.2 C1367.1,1210.8 1371.0,1214.5 1372.0,1219.1 C1373.0,1223.7 1373.7,1227.2 1372.0,1231.6 C1370.3,1235.9 1367.3,1241.1 1362.1,1245.2 C1356.9,1249.3 1347.2,1252.5 1341.0,1256.4 C1334.8,1260.3 1328.5,1264.0 1324.8,1268.8 C1321.1,1273.6 1319.7,1280.1 1318.6,1285.0 C1317.5,1289.9 1318.1,1295.8 1318.0,1298.0" fill="none" stroke="#2ac6d3" stroke-width="8" stroke-linecap="round" stroke-linejoin="round"/>
<path d="M1249.4,1479.4 C1252.5,1481.1 1261.4,1484.3 1267.7,1489.3 C1274.0,1494.3 1284.2,1505.9 1287.5,1509.2" fill="none" stroke="#eee48a" stroke-width="6.5" stroke-linecap="round"/>
<g transform="translate(1249.4,1479.4) rotate(-80.8) scale(0.600)"><path d="M-38.1,-44.7 C-38.6,-47.5 -42.5,-51.8 -40.9,-54.9 C-39.3,-58.0 -32.5,-61.2 -28.6,-63.2 C-24.7,-65.2 -21.5,-65.7 -17.7,-66.7 C-13.9,-67.7 -10.2,-68.8 -5.7,-69.0 C-1.2,-69.2 3.9,-68.8 9.1,-68.2 C14.3,-67.6 21.1,-66.7 25.7,-65.5 C30.3,-64.3 34.8,-64.9 36.6,-61.2 C38.4,-57.5 36.3,-47.4 36.4,-43.4 C36.5,-39.4 37.5,-40.2 37.2,-37.0 C36.9,-33.8 36.0,-28.0 34.7,-24.2 C33.4,-20.4 31.4,-17.4 29.4,-14.4 C27.4,-11.4 25.2,-8.6 22.6,-6.2 C20.1,-3.8 16.8,-1.5 14.1,0.0 C11.4,1.5 9.0,2.1 6.6,2.6 C4.2,3.1 3.6,4.5 -0.2,3.0 C-4.0,1.5 -12.3,-3.7 -16.4,-6.4 C-20.5,-9.1 -21.8,-9.8 -24.6,-13.2 C-27.4,-16.6 -30.9,-22.5 -33.1,-26.6 C-35.3,-30.7 -36.9,-35.0 -37.7,-38.0 C-38.5,-41.0 -37.6,-41.9 -38.1,-44.7Z" fill="#9fc63a"/><path d="M-38.1,-44.7 C-39.1,-44.0 -38.5,-41.0 -37.7,-38.0 C-36.9,-35.0 -35.3,-30.7 -33.1,-26.6 C-30.9,-22.5 -27.4,-16.6 -24.6,-13.2 C-21.8,-9.8 -20.5,-9.1 -16.4,-6.4 C-12.3,-3.7 -4.0,1.5 -0.2,3.0 C3.6,4.5 4.2,3.1 6.6,2.6 C9.0,2.1 11.4,1.5 14.1,0.0 C16.8,-1.5 20.1,-3.8 22.6,-6.2 C25.2,-8.6 27.4,-11.4 29.4,-14.4 C31.4,-17.4 33.4,-20.4 34.7,-24.2 C36.0,-28.0 36.9,-33.8 37.2,-37.0 C37.5,-40.2 37.6,-42.7 36.4,-43.4 C35.2,-44.1 31.4,-43.6 30.0,-41.0 C28.6,-38.4 29.3,-32.0 28.0,-28.0 C26.7,-24.0 24.5,-20.2 22.0,-17.0 C19.5,-13.8 16.0,-11.0 13.0,-9.0 C10.0,-7.0 7.2,-5.5 4.0,-5.0 C0.8,-4.5 -2.7,-4.8 -6.0,-6.0 C-9.3,-7.2 -12.8,-9.5 -16.0,-12.0 C-19.2,-14.5 -22.7,-17.8 -25.0,-21.0 C-27.3,-24.2 -28.8,-27.5 -30.0,-31.0 C-31.2,-34.5 -30.6,-39.7 -32.0,-42.0 C-33.4,-44.3 -37.1,-45.4 -38.1,-44.7Z" fill="#eee48a"/><path d="M0,-6 Q-19.0,-20.0 -25.0,-48.1 M0,-6 Q-7.0,-22.0 -7.4,-49.8 M0,-6 Q8.0,-22.0 9.2,-48.5 M0,-6 Q18.0,-18.0 23.2,-46.3 M-35,-45 L-35,-45 M33.5,-43 L33.5,-43" fill="none" stroke="#eee48a" stroke-width="7.4" stroke-linecap="round"/></g>
<g transform="translate(1309.8,1466.6) rotate(21.8) scale(0.382,0.402)"><path d="M-0.0,-50.0 C1.6,-50.0 3.6,-49.9 5.2,-48.8 C6.8,-47.7 8.8,-45.8 9.7,-43.6 C10.6,-41.4 10.4,-37.8 10.5,-35.6 C10.6,-33.4 9.0,-31.1 10.1,-30.4 C11.2,-29.7 15.2,-30.4 17.3,-31.2 C19.4,-32.0 21.2,-34.9 23.0,-35.2 C24.8,-35.5 27.0,-34.7 28.2,-33.2 C29.4,-31.7 30.5,-28.6 30.2,-26.4 C29.9,-24.2 27.9,-21.9 26.2,-20.0 C24.5,-18.1 21.1,-16.9 19.8,-15.1 C18.5,-13.3 17.5,-10.3 18.6,-9.1 C19.7,-7.9 23.9,-8.0 26.3,-7.9 C28.7,-7.8 31.2,-8.7 33.1,-8.4 C35.0,-8.1 37.1,-7.5 37.9,-6.0 C38.6,-4.5 38.6,-1.3 37.6,0.9 C36.6,3.1 34.2,5.3 32.0,7.3 C29.8,9.2 25.6,10.8 24.3,12.6 C23.0,14.4 22.8,17.2 24.4,18.2 C25.9,19.2 31.1,17.9 33.6,18.5 C36.1,19.1 38.2,20.2 39.6,22.1 C41.0,24.0 42.0,27.5 41.7,29.8 C41.5,32.1 40.4,34.3 38.1,35.8 C35.8,37.3 31.7,38.0 27.7,39.0 C23.7,40.0 18.4,39.8 14.0,41.5 C9.7,43.2 3.9,47.8 1.6,49.2 C-0.7,50.6 1.1,50.3 -0.0,50.0 C-1.1,49.7 -2.2,48.9 -4.8,47.6 C-7.3,46.3 -11.6,43.0 -15.3,42.0 C-19.0,41.0 -23.1,42.0 -26.9,41.7 C-30.6,41.5 -35.2,41.6 -37.8,40.5 C-40.3,39.4 -42.3,37.6 -42.2,35.3 C-42.1,33.0 -39.1,29.0 -37.0,26.9 C-34.9,24.8 -32.3,23.7 -29.8,22.8 C-27.3,21.9 -23.6,22.3 -22.2,21.6 C-20.8,20.9 -20.7,19.9 -21.4,18.4 C-22.1,16.9 -24.1,15.0 -26.3,12.8 C-28.5,10.6 -33.3,7.8 -34.7,5.2 C-36.1,2.6 -35.9,-0.9 -34.8,-2.9 C-33.7,-4.9 -31.0,-6.4 -28.3,-6.9 C-25.6,-7.4 -20.7,-5.8 -18.7,-6.1 C-16.7,-6.4 -16.4,-7.4 -16.3,-8.6 C-16.2,-9.8 -16.5,-11.3 -18.3,-13.0 C-20.1,-14.7 -25.5,-16.3 -27.2,-18.6 C-28.9,-20.9 -29.1,-24.7 -28.4,-27.0 C-27.7,-29.3 -25.5,-31.5 -23.2,-32.2 C-20.9,-32.9 -17.3,-31.6 -14.8,-31.1 C-12.3,-30.7 -9.9,-29.1 -8.4,-29.5 C-6.9,-29.9 -6.2,-31.3 -6.0,-33.5 C-5.8,-35.7 -7.5,-40.2 -7.2,-42.7 C-6.9,-45.2 -5.6,-47.6 -4.4,-48.8 C-3.2,-50.0 -1.6,-50.0 -0.0,-50.0Z" fill="#569852"/><path d="M-0.0,-50.0 C1.6,-50.0 3.6,-49.9 5.2,-48.8 C6.8,-47.7 8.8,-45.8 9.7,-43.6 C10.6,-41.4 10.4,-37.8 10.5,-35.6 C10.6,-33.4 9.0,-31.1 10.1,-30.4 C11.2,-29.7 15.2,-30.4 17.3,-31.2 C19.4,-32.0 21.2,-34.9 23.0,-35.2 C24.8,-35.5 27.0,-34.7 28.2,-33.2 C29.4,-31.7 30.5,-28.6 30.2,-26.4 C29.9,-24.2 27.9,-21.9 26.2,-20.0 C24.5,-18.1 21.1,-16.9 19.8,-15.1 C18.5,-13.3 17.5,-10.3 18.6,-9.1 C19.7,-7.9 23.9,-8.0 26.3,-7.9 C28.7,-7.8 31.2,-8.7 33.1,-8.4 C35.0,-8.1 37.1,-7.5 37.9,-6.0 C38.6,-4.5 38.6,-1.3 37.6,0.9 C36.6,3.1 34.2,5.3 32.0,7.3 C29.8,9.2 25.6,10.8 24.3,12.6 C23.0,14.4 22.8,17.2 24.4,18.2 C25.9,19.2 31.1,17.9 33.6,18.5 C36.1,19.1 38.2,20.2 39.6,22.1 C41.0,24.0 42.0,27.5 41.7,29.8 C41.5,32.1 40.4,34.3 38.1,35.8 C35.8,37.3 31.7,38.0 27.7,39.0 C23.7,40.0 18.4,39.8 14.0,41.5 C9.7,43.2 3.9,47.8 1.6,49.2 C-0.7,50.6 1.1,50.3 -0.0,50.0 C-1.1,49.7 -2.2,48.9 -4.8,47.6 C-7.3,46.3 -11.6,43.0 -15.3,42.0 C-19.0,41.0 -23.1,42.0 -26.9,41.7 C-30.6,41.5 -35.2,41.6 -37.8,40.5 C-40.3,39.4 -42.3,37.6 -42.2,35.3 C-42.1,33.0 -39.1,29.0 -37.0,26.9 C-34.9,24.8 -32.3,23.7 -29.8,22.8 C-27.3,21.9 -23.6,22.3 -22.2,21.6 C-20.8,20.9 -20.7,19.9 -21.4,18.4 C-22.1,16.9 -24.1,15.0 -26.3,12.8 C-28.5,10.6 -33.3,7.8 -34.7,5.2 C-36.1,2.6 -35.9,-0.9 -34.8,-2.9 C-33.7,-4.9 -31.0,-6.4 -28.3,-6.9 C-25.6,-7.4 -20.7,-5.8 -18.7,-6.1 C-16.7,-6.4 -16.4,-7.4 -16.3,-8.6 C-16.2,-9.8 -16.5,-11.3 -18.3,-13.0 C-20.1,-14.7 -25.5,-16.3 -27.2,-18.6 C-28.9,-20.9 -29.1,-24.7 -28.4,-27.0 C-27.7,-29.3 -25.5,-31.5 -23.2,-32.2 C-20.9,-32.9 -17.3,-31.6 -14.8,-31.1 C-12.3,-30.7 -9.9,-29.1 -8.4,-29.5 C-6.9,-29.9 -6.2,-31.3 -6.0,-33.5 C-5.8,-35.7 -7.5,-40.2 -7.2,-42.7 C-6.9,-45.2 -5.6,-47.6 -4.4,-48.8 C-3.2,-50.0 -1.6,-50.0 -0.0,-50.0Z" fill="#b7d543" clip-path="url(#oakR)"/></g>
<g transform="translate(1417.5,1469.8) rotate(-263.9) scale(-0.722,0.850)"><path d="M-0.0,-50.0 C1.4,-50.5 3.9,-49.4 5.7,-47.9 C7.5,-46.4 9.5,-43.2 10.7,-40.8 C11.9,-38.4 12.2,-35.8 13.0,-33.4 C13.8,-31.0 14.3,-27.3 15.5,-26.6 C16.6,-25.9 18.3,-27.7 19.9,-29.0 C21.5,-30.3 23.6,-34.4 25.0,-34.6 C26.4,-34.8 27.6,-32.1 28.1,-30.0 C28.7,-27.9 28.8,-24.7 28.3,-22.0 C27.8,-19.3 26.1,-16.5 25.2,-14.0 C24.3,-11.5 22.2,-7.3 23.1,-7.1 C24.1,-6.9 29.2,-13.1 30.9,-13.0 C32.6,-12.9 33.1,-9.1 33.1,-6.7 C33.1,-4.3 32.0,-0.7 30.6,1.5 C29.2,3.7 26.3,4.7 24.7,6.5 C23.1,8.3 20.1,11.7 21.0,12.5 C21.9,13.3 29.1,10.5 30.3,11.5 C31.5,12.5 29.5,16.3 28.2,18.4 C26.9,20.4 24.9,22.1 22.5,23.8 C20.1,25.5 15.2,27.0 13.5,28.6 C11.8,30.2 13.2,30.9 12.1,33.4 C11.0,35.9 8.8,40.6 7.2,43.5 C5.6,46.4 4.0,49.7 2.4,50.7 C0.8,51.7 -2.5,50.9 -2.4,49.3 C-2.3,47.7 1.5,43.8 3.0,41.2 C4.5,38.6 6.3,36.1 6.4,33.6 C6.5,31.1 5.1,28.3 3.7,26.4 C2.3,24.5 0.1,23.1 -2.1,22.0 C-4.3,20.9 -7.2,20.8 -9.7,19.8 C-12.1,18.8 -15.6,17.5 -16.8,16.1 C-18.0,14.7 -17.9,12.8 -17.0,11.6 C-16.1,10.4 -13.3,9.8 -11.4,9.1 C-9.5,8.3 -6.0,8.0 -5.5,7.1 C-5.0,6.1 -6.6,5.0 -8.1,3.4 C-9.5,1.8 -12.5,-0.5 -14.2,-2.6 C-15.9,-4.7 -18.4,-7.7 -18.3,-9.0 C-18.2,-10.3 -15.6,-10.3 -13.3,-10.5 C-11.0,-10.7 -4.9,-9.1 -4.5,-10.1 C-4.1,-11.1 -9.1,-14.2 -11.2,-16.3 C-13.3,-18.4 -16.4,-20.9 -17.1,-22.9 C-17.8,-24.8 -17.3,-27.2 -15.2,-28.0 C-13.1,-28.8 -6.4,-26.1 -4.5,-27.4 C-2.6,-28.7 -4.2,-32.9 -3.9,-35.8 C-3.6,-38.7 -3.6,-42.5 -3.0,-44.9 C-2.4,-47.3 -1.4,-49.5 -0.0,-50.0Z" fill="#569852"/><path d="M-0.0,-50.0 C1.4,-50.5 3.9,-49.4 5.7,-47.9 C7.5,-46.4 9.5,-43.2 10.7,-40.8 C11.9,-38.4 12.2,-35.8 13.0,-33.4 C13.8,-31.0 14.3,-27.3 15.5,-26.6 C16.6,-25.9 18.3,-27.7 19.9,-29.0 C21.5,-30.3 23.6,-34.4 25.0,-34.6 C26.4,-34.8 27.6,-32.1 28.1,-30.0 C28.7,-27.9 28.8,-24.7 28.3,-22.0 C27.8,-19.3 26.1,-16.5 25.2,-14.0 C24.3,-11.5 22.2,-7.3 23.1,-7.1 C24.1,-6.9 29.2,-13.1 30.9,-13.0 C32.6,-12.9 33.1,-9.1 33.1,-6.7 C33.1,-4.3 32.0,-0.7 30.6,1.5 C29.2,3.7 26.3,4.7 24.7,6.5 C23.1,8.3 20.1,11.7 21.0,12.5 C21.9,13.3 29.1,10.5 30.3,11.5 C31.5,12.5 29.5,16.3 28.2,18.4 C26.9,20.4 24.9,22.1 22.5,23.8 C20.1,25.5 15.2,27.0 13.5,28.6 C11.8,30.2 13.2,30.9 12.1,33.4 C11.0,35.9 8.8,40.6 7.2,43.5 C5.6,46.4 4.0,49.7 2.4,50.7 C0.8,51.7 -2.5,50.9 -2.4,49.3 C-2.3,47.7 1.5,43.8 3.0,41.2 C4.5,38.6 6.3,36.1 6.4,33.6 C6.5,31.1 5.1,28.3 3.7,26.4 C2.3,24.5 0.1,23.1 -2.1,22.0 C-4.3,20.9 -7.2,20.8 -9.7,19.8 C-12.1,18.8 -15.6,17.5 -16.8,16.1 C-18.0,14.7 -17.9,12.8 -17.0,11.6 C-16.1,10.4 -13.3,9.8 -11.4,9.1 C-9.5,8.3 -6.0,8.0 -5.5,7.1 C-5.0,6.1 -6.6,5.0 -8.1,3.4 C-9.5,1.8 -12.5,-0.5 -14.2,-2.6 C-15.9,-4.7 -18.4,-7.7 -18.3,-9.0 C-18.2,-10.3 -15.6,-10.3 -13.3,-10.5 C-11.0,-10.7 -4.9,-9.1 -4.5,-10.1 C-4.1,-11.1 -9.1,-14.2 -11.2,-16.3 C-13.3,-18.4 -16.4,-20.9 -17.1,-22.9 C-17.8,-24.8 -17.3,-27.2 -15.2,-28.0 C-13.1,-28.8 -6.4,-26.1 -4.5,-27.4 C-2.6,-28.7 -4.2,-32.9 -3.9,-35.8 C-3.6,-38.7 -3.6,-42.5 -3.0,-44.9 C-2.4,-47.3 -1.4,-49.5 -0.0,-50.0Z" fill="#b7d543" clip-path="url(#aruR)"/></g>
<g transform="translate(1227.5,1529.2) rotate(-10.6) scale(0.383,0.403)"><path d="M-0.0,-50.0 C1.6,-50.0 3.6,-49.9 5.2,-48.8 C6.8,-47.7 8.8,-45.8 9.7,-43.6 C10.6,-41.4 10.4,-37.8 10.5,-35.6 C10.6,-33.4 9.0,-31.1 10.1,-30.4 C11.2,-29.7 15.2,-30.4 17.3,-31.2 C19.4,-32.0 21.2,-34.9 23.0,-35.2 C24.8,-35.5 27.0,-34.7 28.2,-33.2 C29.4,-31.7 30.5,-28.6 30.2,-26.4 C29.9,-24.2 27.9,-21.9 26.2,-20.0 C24.5,-18.1 21.1,-16.9 19.8,-15.1 C18.5,-13.3 17.5,-10.3 18.6,-9.1 C19.7,-7.9 23.9,-8.0 26.3,-7.9 C28.7,-7.8 31.2,-8.7 33.1,-8.4 C35.0,-8.1 37.1,-7.5 37.9,-6.0 C38.6,-4.5 38.6,-1.3 37.6,0.9 C36.6,3.1 34.2,5.3 32.0,7.3 C29.8,9.2 25.6,10.8 24.3,12.6 C23.0,14.4 22.8,17.2 24.4,18.2 C25.9,19.2 31.1,17.9 33.6,18.5 C36.1,19.1 38.2,20.2 39.6,22.1 C41.0,24.0 42.0,27.5 41.7,29.8 C41.5,32.1 40.4,34.3 38.1,35.8 C35.8,37.3 31.7,38.0 27.7,39.0 C23.7,40.0 18.4,39.8 14.0,41.5 C9.7,43.2 3.9,47.8 1.6,49.2 C-0.7,50.6 1.1,50.3 -0.0,50.0 C-1.1,49.7 -2.2,48.9 -4.8,47.6 C-7.3,46.3 -11.6,43.0 -15.3,42.0 C-19.0,41.0 -23.1,42.0 -26.9,41.7 C-30.6,41.5 -35.2,41.6 -37.8,40.5 C-40.3,39.4 -42.3,37.6 -42.2,35.3 C-42.1,33.0 -39.1,29.0 -37.0,26.9 C-34.9,24.8 -32.3,23.7 -29.8,22.8 C-27.3,21.9 -23.6,22.3 -22.2,21.6 C-20.8,20.9 -20.7,19.9 -21.4,18.4 C-22.1,16.9 -24.1,15.0 -26.3,12.8 C-28.5,10.6 -33.3,7.8 -34.7,5.2 C-36.1,2.6 -35.9,-0.9 -34.8,-2.9 C-33.7,-4.9 -31.0,-6.4 -28.3,-6.9 C-25.6,-7.4 -20.7,-5.8 -18.7,-6.1 C-16.7,-6.4 -16.4,-7.4 -16.3,-8.6 C-16.2,-9.8 -16.5,-11.3 -18.3,-13.0 C-20.1,-14.7 -25.5,-16.3 -27.2,-18.6 C-28.9,-20.9 -29.1,-24.7 -28.4,-27.0 C-27.7,-29.3 -25.5,-31.5 -23.2,-32.2 C-20.9,-32.9 -17.3,-31.6 -14.8,-31.1 C-12.3,-30.7 -9.9,-29.1 -8.4,-29.5 C-6.9,-29.9 -6.2,-31.3 -6.0,-33.5 C-5.8,-35.7 -7.5,-40.2 -7.2,-42.7 C-6.9,-45.2 -5.6,-47.6 -4.4,-48.8 C-3.2,-50.0 -1.6,-50.0 -0.0,-50.0Z" fill="#569852"/><path d="M-0.0,-50.0 C1.6,-50.0 3.6,-49.9 5.2,-48.8 C6.8,-47.7 8.8,-45.8 9.7,-43.6 C10.6,-41.4 10.4,-37.8 10.5,-35.6 C10.6,-33.4 9.0,-31.1 10.1,-30.4 C11.2,-29.7 15.2,-30.4 17.3,-31.2 C19.4,-32.0 21.2,-34.9 23.0,-35.2 C24.8,-35.5 27.0,-34.7 28.2,-33.2 C29.4,-31.7 30.5,-28.6 30.2,-26.4 C29.9,-24.2 27.9,-21.9 26.2,-20.0 C24.5,-18.1 21.1,-16.9 19.8,-15.1 C18.5,-13.3 17.5,-10.3 18.6,-9.1 C19.7,-7.9 23.9,-8.0 26.3,-7.9 C28.7,-7.8 31.2,-8.7 33.1,-8.4 C35.0,-8.1 37.1,-7.5 37.9,-6.0 C38.6,-4.5 38.6,-1.3 37.6,0.9 C36.6,3.1 34.2,5.3 32.0,7.3 C29.8,9.2 25.6,10.8 24.3,12.6 C23.0,14.4 22.8,17.2 24.4,18.2 C25.9,19.2 31.1,17.9 33.6,18.5 C36.1,19.1 38.2,20.2 39.6,22.1 C41.0,24.0 42.0,27.5 41.7,29.8 C41.5,32.1 40.4,34.3 38.1,35.8 C35.8,37.3 31.7,38.0 27.7,39.0 C23.7,40.0 18.4,39.8 14.0,41.5 C9.7,43.2 3.9,47.8 1.6,49.2 C-0.7,50.6 1.1,50.3 -0.0,50.0 C-1.1,49.7 -2.2,48.9 -4.8,47.6 C-7.3,46.3 -11.6,43.0 -15.3,42.0 C-19.0,41.0 -23.1,42.0 -26.9,41.7 C-30.6,41.5 -35.2,41.6 -37.8,40.5 C-40.3,39.4 -42.3,37.6 -42.2,35.3 C-42.1,33.0 -39.1,29.0 -37.0,26.9 C-34.9,24.8 -32.3,23.7 -29.8,22.8 C-27.3,21.9 -23.6,22.3 -22.2,21.6 C-20.8,20.9 -20.7,19.9 -21.4,18.4 C-22.1,16.9 -24.1,15.0 -26.3,12.8 C-28.5,10.6 -33.3,7.8 -34.7,5.2 C-36.1,2.6 -35.9,-0.9 -34.8,-2.9 C-33.7,-4.9 -31.0,-6.4 -28.3,-6.9 C-25.6,-7.4 -20.7,-5.8 -18.7,-6.1 C-16.7,-6.4 -16.4,-7.4 -16.3,-8.6 C-16.2,-9.8 -16.5,-11.3 -18.3,-13.0 C-20.1,-14.7 -25.5,-16.3 -27.2,-18.6 C-28.9,-20.9 -29.1,-24.7 -28.4,-27.0 C-27.7,-29.3 -25.5,-31.5 -23.2,-32.2 C-20.9,-32.9 -17.3,-31.6 -14.8,-31.1 C-12.3,-30.7 -9.9,-29.1 -8.4,-29.5 C-6.9,-29.9 -6.2,-31.3 -6.0,-33.5 C-5.8,-35.7 -7.5,-40.2 -7.2,-42.7 C-6.9,-45.2 -5.6,-47.6 -4.4,-48.8 C-3.2,-50.0 -1.6,-50.0 -0.0,-50.0Z" fill="#b7d543" clip-path="url(#oakR)"/></g>
<g transform="translate(1300.8,1566.0) rotate(-201.6) scale(0.988,0.988)"><path d="M-0.0,-50.0 C1.4,-50.5 3.9,-49.4 5.7,-47.9 C7.5,-46.4 9.5,-43.2 10.7,-40.8 C11.9,-38.4 12.2,-35.8 13.0,-33.4 C13.8,-31.0 14.3,-27.3 15.5,-26.6 C16.6,-25.9 18.3,-27.7 19.9,-29.0 C21.5,-30.3 23.6,-34.4 25.0,-34.6 C26.4,-34.8 27.6,-32.1 28.1,-30.0 C28.7,-27.9 28.8,-24.7 28.3,-22.0 C27.8,-19.3 26.1,-16.5 25.2,-14.0 C24.3,-11.5 22.2,-7.3 23.1,-7.1 C24.1,-6.9 29.2,-13.1 30.9,-13.0 C32.6,-12.9 33.1,-9.1 33.1,-6.7 C33.1,-4.3 32.0,-0.7 30.6,1.5 C29.2,3.7 26.3,4.7 24.7,6.5 C23.1,8.3 20.1,11.7 21.0,12.5 C21.9,13.3 29.1,10.5 30.3,11.5 C31.5,12.5 29.5,16.3 28.2,18.4 C26.9,20.4 24.9,22.1 22.5,23.8 C20.1,25.5 15.2,27.0 13.5,28.6 C11.8,30.2 13.2,30.9 12.1,33.4 C11.0,35.9 8.8,40.6 7.2,43.5 C5.6,46.4 4.0,49.7 2.4,50.7 C0.8,51.7 -2.5,50.9 -2.4,49.3 C-2.3,47.7 1.5,43.8 3.0,41.2 C4.5,38.6 6.3,36.1 6.4,33.6 C6.5,31.1 5.1,28.3 3.7,26.4 C2.3,24.5 0.1,23.1 -2.1,22.0 C-4.3,20.9 -7.2,20.8 -9.7,19.8 C-12.1,18.8 -15.6,17.5 -16.8,16.1 C-18.0,14.7 -17.9,12.8 -17.0,11.6 C-16.1,10.4 -13.3,9.8 -11.4,9.1 C-9.5,8.3 -6.0,8.0 -5.5,7.1 C-5.0,6.1 -6.6,5.0 -8.1,3.4 C-9.5,1.8 -12.5,-0.5 -14.2,-2.6 C-15.9,-4.7 -18.4,-7.7 -18.3,-9.0 C-18.2,-10.3 -15.6,-10.3 -13.3,-10.5 C-11.0,-10.7 -4.9,-9.1 -4.5,-10.1 C-4.1,-11.1 -9.1,-14.2 -11.2,-16.3 C-13.3,-18.4 -16.4,-20.9 -17.1,-22.9 C-17.8,-24.8 -17.3,-27.2 -15.2,-28.0 C-13.1,-28.8 -6.4,-26.1 -4.5,-27.4 C-2.6,-28.7 -4.2,-32.9 -3.9,-35.8 C-3.6,-38.7 -3.6,-42.5 -3.0,-44.9 C-2.4,-47.3 -1.4,-49.5 -0.0,-50.0Z" fill="#569852"/><path d="M-0.0,-50.0 C1.4,-50.5 3.9,-49.4 5.7,-47.9 C7.5,-46.4 9.5,-43.2 10.7,-40.8 C11.9,-38.4 12.2,-35.8 13.0,-33.4 C13.8,-31.0 14.3,-27.3 15.5,-26.6 C16.6,-25.9 18.3,-27.7 19.9,-29.0 C21.5,-30.3 23.6,-34.4 25.0,-34.6 C26.4,-34.8 27.6,-32.1 28.1,-30.0 C28.7,-27.9 28.8,-24.7 28.3,-22.0 C27.8,-19.3 26.1,-16.5 25.2,-14.0 C24.3,-11.5 22.2,-7.3 23.1,-7.1 C24.1,-6.9 29.2,-13.1 30.9,-13.0 C32.6,-12.9 33.1,-9.1 33.1,-6.7 C33.1,-4.3 32.0,-0.7 30.6,1.5 C29.2,3.7 26.3,4.7 24.7,6.5 C23.1,8.3 20.1,11.7 21.0,12.5 C21.9,13.3 29.1,10.5 30.3,11.5 C31.5,12.5 29.5,16.3 28.2,18.4 C26.9,20.4 24.9,22.1 22.5,23.8 C20.1,25.5 15.2,27.0 13.5,28.6 C11.8,30.2 13.2,30.9 12.1,33.4 C11.0,35.9 8.8,40.6 7.2,43.5 C5.6,46.4 4.0,49.7 2.4,50.7 C0.8,51.7 -2.5,50.9 -2.4,49.3 C-2.3,47.7 1.5,43.8 3.0,41.2 C4.5,38.6 6.3,36.1 6.4,33.6 C6.5,31.1 5.1,28.3 3.7,26.4 C2.3,24.5 0.1,23.1 -2.1,22.0 C-4.3,20.9 -7.2,20.8 -9.7,19.8 C-12.1,18.8 -15.6,17.5 -16.8,16.1 C-18.0,14.7 -17.9,12.8 -17.0,11.6 C-16.1,10.4 -13.3,9.8 -11.4,9.1 C-9.5,8.3 -6.0,8.0 -5.5,7.1 C-5.0,6.1 -6.6,5.0 -8.1,3.4 C-9.5,1.8 -12.5,-0.5 -14.2,-2.6 C-15.9,-4.7 -18.4,-7.7 -18.3,-9.0 C-18.2,-10.3 -15.6,-10.3 -13.3,-10.5 C-11.0,-10.7 -4.9,-9.1 -4.5,-10.1 C-4.1,-11.1 -9.1,-14.2 -11.2,-16.3 C-13.3,-18.4 -16.4,-20.9 -17.1,-22.9 C-17.8,-24.8 -17.3,-27.2 -15.2,-28.0 C-13.1,-28.8 -6.4,-26.1 -4.5,-27.4 C-2.6,-28.7 -4.2,-32.9 -3.9,-35.8 C-3.6,-38.7 -3.6,-42.5 -3.0,-44.9 C-2.4,-47.3 -1.4,-49.5 -0.0,-50.0Z" fill="#b7d543" clip-path="url(#aruR)"/></g>
<g transform="translate(1338.9,1527.0) rotate(-234.5) scale(0.772,0.813)"><path d="M-0.0,-50.0 C1.4,-50.5 3.9,-49.4 5.7,-47.9 C7.5,-46.4 9.5,-43.2 10.7,-40.8 C11.9,-38.4 12.2,-35.8 13.0,-33.4 C13.8,-31.0 14.3,-27.3 15.5,-26.6 C16.6,-25.9 18.3,-27.7 19.9,-29.0 C21.5,-30.3 23.6,-34.4 25.0,-34.6 C26.4,-34.8 27.6,-32.1 28.1,-30.0 C28.7,-27.9 28.8,-24.7 28.3,-22.0 C27.8,-19.3 26.1,-16.5 25.2,-14.0 C24.3,-11.5 22.2,-7.3 23.1,-7.1 C24.1,-6.9 29.2,-13.1 30.9,-13.0 C32.6,-12.9 33.1,-9.1 33.1,-6.7 C33.1,-4.3 32.0,-0.7 30.6,1.5 C29.2,3.7 26.3,4.7 24.7,6.5 C23.1,8.3 20.1,11.7 21.0,12.5 C21.9,13.3 29.1,10.5 30.3,11.5 C31.5,12.5 29.5,16.3 28.2,18.4 C26.9,20.4 24.9,22.1 22.5,23.8 C20.1,25.5 15.2,27.0 13.5,28.6 C11.8,30.2 13.2,30.9 12.1,33.4 C11.0,35.9 8.8,40.6 7.2,43.5 C5.6,46.4 4.0,49.7 2.4,50.7 C0.8,51.7 -2.5,50.9 -2.4,49.3 C-2.3,47.7 1.5,43.8 3.0,41.2 C4.5,38.6 6.3,36.1 6.4,33.6 C6.5,31.1 5.1,28.3 3.7,26.4 C2.3,24.5 0.1,23.1 -2.1,22.0 C-4.3,20.9 -7.2,20.8 -9.7,19.8 C-12.1,18.8 -15.6,17.5 -16.8,16.1 C-18.0,14.7 -17.9,12.8 -17.0,11.6 C-16.1,10.4 -13.3,9.8 -11.4,9.1 C-9.5,8.3 -6.0,8.0 -5.5,7.1 C-5.0,6.1 -6.6,5.0 -8.1,3.4 C-9.5,1.8 -12.5,-0.5 -14.2,-2.6 C-15.9,-4.7 -18.4,-7.7 -18.3,-9.0 C-18.2,-10.3 -15.6,-10.3 -13.3,-10.5 C-11.0,-10.7 -4.9,-9.1 -4.5,-10.1 C-4.1,-11.1 -9.1,-14.2 -11.2,-16.3 C-13.3,-18.4 -16.4,-20.9 -17.1,-22.9 C-17.8,-24.8 -17.3,-27.2 -15.2,-28.0 C-13.1,-28.8 -6.4,-26.1 -4.5,-27.4 C-2.6,-28.7 -4.2,-32.9 -3.9,-35.8 C-3.6,-38.7 -3.6,-42.5 -3.0,-44.9 C-2.4,-47.3 -1.4,-49.5 -0.0,-50.0Z" fill="#569852"/><path d="M-0.0,-50.0 C1.4,-50.5 3.9,-49.4 5.7,-47.9 C7.5,-46.4 9.5,-43.2 10.7,-40.8 C11.9,-38.4 12.2,-35.8 13.0,-33.4 C13.8,-31.0 14.3,-27.3 15.5,-26.6 C16.6,-25.9 18.3,-27.7 19.9,-29.0 C21.5,-30.3 23.6,-34.4 25.0,-34.6 C26.4,-34.8 27.6,-32.1 28.1,-30.0 C28.7,-27.9 28.8,-24.7 28.3,-22.0 C27.8,-19.3 26.1,-16.5 25.2,-14.0 C24.3,-11.5 22.2,-7.3 23.1,-7.1 C24.1,-6.9 29.2,-13.1 30.9,-13.0 C32.6,-12.9 33.1,-9.1 33.1,-6.7 C33.1,-4.3 32.0,-0.7 30.6,1.5 C29.2,3.7 26.3,4.7 24.7,6.5 C23.1,8.3 20.1,11.7 21.0,12.5 C21.9,13.3 29.1,10.5 30.3,11.5 C31.5,12.5 29.5,16.3 28.2,18.4 C26.9,20.4 24.9,22.1 22.5,23.8 C20.1,25.5 15.2,27.0 13.5,28.6 C11.8,30.2 13.2,30.9 12.1,33.4 C11.0,35.9 8.8,40.6 7.2,43.5 C5.6,46.4 4.0,49.7 2.4,50.7 C0.8,51.7 -2.5,50.9 -2.4,49.3 C-2.3,47.7 1.5,43.8 3.0,41.2 C4.5,38.6 6.3,36.1 6.4,33.6 C6.5,31.1 5.1,28.3 3.7,26.4 C2.3,24.5 0.1,23.1 -2.1,22.0 C-4.3,20.9 -7.2,20.8 -9.7,19.8 C-12.1,18.8 -15.6,17.5 -16.8,16.1 C-18.0,14.7 -17.9,12.8 -17.0,11.6 C-16.1,10.4 -13.3,9.8 -11.4,9.1 C-9.5,8.3 -6.0,8.0 -5.5,7.1 C-5.0,6.1 -6.6,5.0 -8.1,3.4 C-9.5,1.8 -12.5,-0.5 -14.2,-2.6 C-15.9,-4.7 -18.4,-7.7 -18.3,-9.0 C-18.2,-10.3 -15.6,-10.3 -13.3,-10.5 C-11.0,-10.7 -4.9,-9.1 -4.5,-10.1 C-4.1,-11.1 -9.1,-14.2 -11.2,-16.3 C-13.3,-18.4 -16.4,-20.9 -17.1,-22.9 C-17.8,-24.8 -17.3,-27.2 -15.2,-28.0 C-13.1,-28.8 -6.4,-26.1 -4.5,-27.4 C-2.6,-28.7 -4.2,-32.9 -3.9,-35.8 C-3.6,-38.7 -3.6,-42.5 -3.0,-44.9 C-2.4,-47.3 -1.4,-49.5 -0.0,-50.0Z" fill="#b7d543" clip-path="url(#aruR)"/></g>
<g transform="translate(1420.4,1532.6) rotate(-45.6) scale(0.600,0.666)"><path d="M-0.0,-50.0 C1.6,-50.0 3.6,-49.9 5.2,-48.8 C6.8,-47.7 8.8,-45.8 9.7,-43.6 C10.6,-41.4 10.4,-37.8 10.5,-35.6 C10.6,-33.4 9.0,-31.1 10.1,-30.4 C11.2,-29.7 15.2,-30.4 17.3,-31.2 C19.4,-32.0 21.2,-34.9 23.0,-35.2 C24.8,-35.5 27.0,-34.7 28.2,-33.2 C29.4,-31.7 30.5,-28.6 30.2,-26.4 C29.9,-24.2 27.9,-21.9 26.2,-20.0 C24.5,-18.1 21.1,-16.9 19.8,-15.1 C18.5,-13.3 17.5,-10.3 18.6,-9.1 C19.7,-7.9 23.9,-8.0 26.3,-7.9 C28.7,-7.8 31.2,-8.7 33.1,-8.4 C35.0,-8.1 37.1,-7.5 37.9,-6.0 C38.6,-4.5 38.6,-1.3 37.6,0.9 C36.6,3.1 34.2,5.3 32.0,7.3 C29.8,9.2 25.6,10.8 24.3,12.6 C23.0,14.4 22.8,17.2 24.4,18.2 C25.9,19.2 31.1,17.9 33.6,18.5 C36.1,19.1 38.2,20.2 39.6,22.1 C41.0,24.0 42.0,27.5 41.7,29.8 C41.5,32.1 40.4,34.3 38.1,35.8 C35.8,37.3 31.7,38.0 27.7,39.0 C23.7,40.0 18.4,39.8 14.0,41.5 C9.7,43.2 3.9,47.8 1.6,49.2 C-0.7,50.6 1.1,50.3 -0.0,50.0 C-1.1,49.7 -2.2,48.9 -4.8,47.6 C-7.3,46.3 -11.6,43.0 -15.3,42.0 C-19.0,41.0 -23.1,42.0 -26.9,41.7 C-30.6,41.5 -35.2,41.6 -37.8,40.5 C-40.3,39.4 -42.3,37.6 -42.2,35.3 C-42.1,33.0 -39.1,29.0 -37.0,26.9 C-34.9,24.8 -32.3,23.7 -29.8,22.8 C-27.3,21.9 -23.6,22.3 -22.2,21.6 C-20.8,20.9 -20.7,19.9 -21.4,18.4 C-22.1,16.9 -24.1,15.0 -26.3,12.8 C-28.5,10.6 -33.3,7.8 -34.7,5.2 C-36.1,2.6 -35.9,-0.9 -34.8,-2.9 C-33.7,-4.9 -31.0,-6.4 -28.3,-6.9 C-25.6,-7.4 -20.7,-5.8 -18.7,-6.1 C-16.7,-6.4 -16.4,-7.4 -16.3,-8.6 C-16.2,-9.8 -16.5,-11.3 -18.3,-13.0 C-20.1,-14.7 -25.5,-16.3 -27.2,-18.6 C-28.9,-20.9 -29.1,-24.7 -28.4,-27.0 C-27.7,-29.3 -25.5,-31.5 -23.2,-32.2 C-20.9,-32.9 -17.3,-31.6 -14.8,-31.1 C-12.3,-30.7 -9.9,-29.1 -8.4,-29.5 C-6.9,-29.9 -6.2,-31.3 -6.0,-33.5 C-5.8,-35.7 -7.5,-40.2 -7.2,-42.7 C-6.9,-45.2 -5.6,-47.6 -4.4,-48.8 C-3.2,-50.0 -1.6,-50.0 -0.0,-50.0Z" fill="#569852"/><path d="M-0.0,-50.0 C1.6,-50.0 3.6,-49.9 5.2,-48.8 C6.8,-47.7 8.8,-45.8 9.7,-43.6 C10.6,-41.4 10.4,-37.8 10.5,-35.6 C10.6,-33.4 9.0,-31.1 10.1,-30.4 C11.2,-29.7 15.2,-30.4 17.3,-31.2 C19.4,-32.0 21.2,-34.9 23.0,-35.2 C24.8,-35.5 27.0,-34.7 28.2,-33.2 C29.4,-31.7 30.5,-28.6 30.2,-26.4 C29.9,-24.2 27.9,-21.9 26.2,-20.0 C24.5,-18.1 21.1,-16.9 19.8,-15.1 C18.5,-13.3 17.5,-10.3 18.6,-9.1 C19.7,-7.9 23.9,-8.0 26.3,-7.9 C28.7,-7.8 31.2,-8.7 33.1,-8.4 C35.0,-8.1 37.1,-7.5 37.9,-6.0 C38.6,-4.5 38.6,-1.3 37.6,0.9 C36.6,3.1 34.2,5.3 32.0,7.3 C29.8,9.2 25.6,10.8 24.3,12.6 C23.0,14.4 22.8,17.2 24.4,18.2 C25.9,19.2 31.1,17.9 33.6,18.5 C36.1,19.1 38.2,20.2 39.6,22.1 C41.0,24.0 42.0,27.5 41.7,29.8 C41.5,32.1 40.4,34.3 38.1,35.8 C35.8,37.3 31.7,38.0 27.7,39.0 C23.7,40.0 18.4,39.8 14.0,41.5 C9.7,43.2 3.9,47.8 1.6,49.2 C-0.7,50.6 1.1,50.3 -0.0,50.0 C-1.1,49.7 -2.2,48.9 -4.8,47.6 C-7.3,46.3 -11.6,43.0 -15.3,42.0 C-19.0,41.0 -23.1,42.0 -26.9,41.7 C-30.6,41.5 -35.2,41.6 -37.8,40.5 C-40.3,39.4 -42.3,37.6 -42.2,35.3 C-42.1,33.0 -39.1,29.0 -37.0,26.9 C-34.9,24.8 -32.3,23.7 -29.8,22.8 C-27.3,21.9 -23.6,22.3 -22.2,21.6 C-20.8,20.9 -20.7,19.9 -21.4,18.4 C-22.1,16.9 -24.1,15.0 -26.3,12.8 C-28.5,10.6 -33.3,7.8 -34.7,5.2 C-36.1,2.6 -35.9,-0.9 -34.8,-2.9 C-33.7,-4.9 -31.0,-6.4 -28.3,-6.9 C-25.6,-7.4 -20.7,-5.8 -18.7,-6.1 C-16.7,-6.4 -16.4,-7.4 -16.3,-8.6 C-16.2,-9.8 -16.5,-11.3 -18.3,-13.0 C-20.1,-14.7 -25.5,-16.3 -27.2,-18.6 C-28.9,-20.9 -29.1,-24.7 -28.4,-27.0 C-27.7,-29.3 -25.5,-31.5 -23.2,-32.2 C-20.9,-32.9 -17.3,-31.6 -14.8,-31.1 C-12.3,-30.7 -9.9,-29.1 -8.4,-29.5 C-6.9,-29.9 -6.2,-31.3 -6.0,-33.5 C-5.8,-35.7 -7.5,-40.2 -7.2,-42.7 C-6.9,-45.2 -5.6,-47.6 -4.4,-48.8 C-3.2,-50.0 -1.6,-50.0 -0.0,-50.0Z" fill="#b7d543" clip-path="url(#oakR)"/></g>
<g transform="translate(1398.1,1601.5) rotate(-230.4) scale(-0.804,0.846)"><path d="M-0.0,-50.0 C1.4,-50.5 3.9,-49.4 5.7,-47.9 C7.5,-46.4 9.5,-43.2 10.7,-40.8 C11.9,-38.4 12.2,-35.8 13.0,-33.4 C13.8,-31.0 14.3,-27.3 15.5,-26.6 C16.6,-25.9 18.3,-27.7 19.9,-29.0 C21.5,-30.3 23.6,-34.4 25.0,-34.6 C26.4,-34.8 27.6,-32.1 28.1,-30.0 C28.7,-27.9 28.8,-24.7 28.3,-22.0 C27.8,-19.3 26.1,-16.5 25.2,-14.0 C24.3,-11.5 22.2,-7.3 23.1,-7.1 C24.1,-6.9 29.2,-13.1 30.9,-13.0 C32.6,-12.9 33.1,-9.1 33.1,-6.7 C33.1,-4.3 32.0,-0.7 30.6,1.5 C29.2,3.7 26.3,4.7 24.7,6.5 C23.1,8.3 20.1,11.7 21.0,12.5 C21.9,13.3 29.1,10.5 30.3,11.5 C31.5,12.5 29.5,16.3 28.2,18.4 C26.9,20.4 24.9,22.1 22.5,23.8 C20.1,25.5 15.2,27.0 13.5,28.6 C11.8,30.2 13.2,30.9 12.1,33.4 C11.0,35.9 8.8,40.6 7.2,43.5 C5.6,46.4 4.0,49.7 2.4,50.7 C0.8,51.7 -2.5,50.9 -2.4,49.3 C-2.3,47.7 1.5,43.8 3.0,41.2 C4.5,38.6 6.3,36.1 6.4,33.6 C6.5,31.1 5.1,28.3 3.7,26.4 C2.3,24.5 0.1,23.1 -2.1,22.0 C-4.3,20.9 -7.2,20.8 -9.7,19.8 C-12.1,18.8 -15.6,17.5 -16.8,16.1 C-18.0,14.7 -17.9,12.8 -17.0,11.6 C-16.1,10.4 -13.3,9.8 -11.4,9.1 C-9.5,8.3 -6.0,8.0 -5.5,7.1 C-5.0,6.1 -6.6,5.0 -8.1,3.4 C-9.5,1.8 -12.5,-0.5 -14.2,-2.6 C-15.9,-4.7 -18.4,-7.7 -18.3,-9.0 C-18.2,-10.3 -15.6,-10.3 -13.3,-10.5 C-11.0,-10.7 -4.9,-9.1 -4.5,-10.1 C-4.1,-11.1 -9.1,-14.2 -11.2,-16.3 C-13.3,-18.4 -16.4,-20.9 -17.1,-22.9 C-17.8,-24.8 -17.3,-27.2 -15.2,-28.0 C-13.1,-28.8 -6.4,-26.1 -4.5,-27.4 C-2.6,-28.7 -4.2,-32.9 -3.9,-35.8 C-3.6,-38.7 -3.6,-42.5 -3.0,-44.9 C-2.4,-47.3 -1.4,-49.5 -0.0,-50.0Z" fill="#569852"/><path d="M-0.0,-50.0 C1.4,-50.5 3.9,-49.4 5.7,-47.9 C7.5,-46.4 9.5,-43.2 10.7,-40.8 C11.9,-38.4 12.2,-35.8 13.0,-33.4 C13.8,-31.0 14.3,-27.3 15.5,-26.6 C16.6,-25.9 18.3,-27.7 19.9,-29.0 C21.5,-30.3 23.6,-34.4 25.0,-34.6 C26.4,-34.8 27.6,-32.1 28.1,-30.0 C28.7,-27.9 28.8,-24.7 28.3,-22.0 C27.8,-19.3 26.1,-16.5 25.2,-14.0 C24.3,-11.5 22.2,-7.3 23.1,-7.1 C24.1,-6.9 29.2,-13.1 30.9,-13.0 C32.6,-12.9 33.1,-9.1 33.1,-6.7 C33.1,-4.3 32.0,-0.7 30.6,1.5 C29.2,3.7 26.3,4.7 24.7,6.5 C23.1,8.3 20.1,11.7 21.0,12.5 C21.9,13.3 29.1,10.5 30.3,11.5 C31.5,12.5 29.5,16.3 28.2,18.4 C26.9,20.4 24.9,22.1 22.5,23.8 C20.1,25.5 15.2,27.0 13.5,28.6 C11.8,30.2 13.2,30.9 12.1,33.4 C11.0,35.9 8.8,40.6 7.2,43.5 C5.6,46.4 4.0,49.7 2.4,50.7 C0.8,51.7 -2.5,50.9 -2.4,49.3 C-2.3,47.7 1.5,43.8 3.0,41.2 C4.5,38.6 6.3,36.1 6.4,33.6 C6.5,31.1 5.1,28.3 3.7,26.4 C2.3,24.5 0.1,23.1 -2.1,22.0 C-4.3,20.9 -7.2,20.8 -9.7,19.8 C-12.1,18.8 -15.6,17.5 -16.8,16.1 C-18.0,14.7 -17.9,12.8 -17.0,11.6 C-16.1,10.4 -13.3,9.8 -11.4,9.1 C-9.5,8.3 -6.0,8.0 -5.5,7.1 C-5.0,6.1 -6.6,5.0 -8.1,3.4 C-9.5,1.8 -12.5,-0.5 -14.2,-2.6 C-15.9,-4.7 -18.4,-7.7 -18.3,-9.0 C-18.2,-10.3 -15.6,-10.3 -13.3,-10.5 C-11.0,-10.7 -4.9,-9.1 -4.5,-10.1 C-4.1,-11.1 -9.1,-14.2 -11.2,-16.3 C-13.3,-18.4 -16.4,-20.9 -17.1,-22.9 C-17.8,-24.8 -17.3,-27.2 -15.2,-28.0 C-13.1,-28.8 -6.4,-26.1 -4.5,-27.4 C-2.6,-28.7 -4.2,-32.9 -3.9,-35.8 C-3.6,-38.7 -3.6,-42.5 -3.0,-44.9 C-2.4,-47.3 -1.4,-49.5 -0.0,-50.0Z" fill="#b7d543" clip-path="url(#aruR)"/></g>
<path d="M1282.6,1626.8 C1283.8,1624.8 1287.8,1619.1 1290.0,1615.0 C1292.2,1610.9 1294.8,1604.2 1295.8,1602.0" fill="none" stroke="#eee48a" stroke-width="6.5" stroke-linecap="round"/>
<g transform="translate(1282.6,1626.8) rotate(-134.0) scale(0.590)"><path d="M-38.1,-44.7 C-38.6,-47.5 -42.5,-51.8 -40.9,-54.9 C-39.3,-58.0 -32.5,-61.2 -28.6,-63.2 C-24.7,-65.2 -21.5,-65.7 -17.7,-66.7 C-13.9,-67.7 -10.2,-68.8 -5.7,-69.0 C-1.2,-69.2 3.9,-68.8 9.1,-68.2 C14.3,-67.6 21.1,-66.7 25.7,-65.5 C30.3,-64.3 34.8,-64.9 36.6,-61.2 C38.4,-57.5 36.3,-47.4 36.4,-43.4 C36.5,-39.4 37.5,-40.2 37.2,-37.0 C36.9,-33.8 36.0,-28.0 34.7,-24.2 C33.4,-20.4 31.4,-17.4 29.4,-14.4 C27.4,-11.4 25.2,-8.6 22.6,-6.2 C20.1,-3.8 16.8,-1.5 14.1,0.0 C11.4,1.5 9.0,2.1 6.6,2.6 C4.2,3.1 3.6,4.5 -0.2,3.0 C-4.0,1.5 -12.3,-3.7 -16.4,-6.4 C-20.5,-9.1 -21.8,-9.8 -24.6,-13.2 C-27.4,-16.6 -30.9,-22.5 -33.1,-26.6 C-35.3,-30.7 -36.9,-35.0 -37.7,-38.0 C-38.5,-41.0 -37.6,-41.9 -38.1,-44.7Z" fill="#9fc63a"/><path d="M-38.1,-44.7 C-39.1,-44.0 -38.5,-41.0 -37.7,-38.0 C-36.9,-35.0 -35.3,-30.7 -33.1,-26.6 C-30.9,-22.5 -27.4,-16.6 -24.6,-13.2 C-21.8,-9.8 -20.5,-9.1 -16.4,-6.4 C-12.3,-3.7 -4.0,1.5 -0.2,3.0 C3.6,4.5 4.2,3.1 6.6,2.6 C9.0,2.1 11.4,1.5 14.1,0.0 C16.8,-1.5 20.1,-3.8 22.6,-6.2 C25.2,-8.6 27.4,-11.4 29.4,-14.4 C31.4,-17.4 33.4,-20.4 34.7,-24.2 C36.0,-28.0 36.9,-33.8 37.2,-37.0 C37.5,-40.2 37.6,-42.7 36.4,-43.4 C35.2,-44.1 31.4,-43.6 30.0,-41.0 C28.6,-38.4 29.3,-32.0 28.0,-28.0 C26.7,-24.0 24.5,-20.2 22.0,-17.0 C19.5,-13.8 16.0,-11.0 13.0,-9.0 C10.0,-7.0 7.2,-5.5 4.0,-5.0 C0.8,-4.5 -2.7,-4.8 -6.0,-6.0 C-9.3,-7.2 -12.8,-9.5 -16.0,-12.0 C-19.2,-14.5 -22.7,-17.8 -25.0,-21.0 C-27.3,-24.2 -28.8,-27.5 -30.0,-31.0 C-31.2,-34.5 -30.6,-39.7 -32.0,-42.0 C-33.4,-44.3 -37.1,-45.4 -38.1,-44.7Z" fill="#eee48a"/><path d="M0,-6 Q-19.0,-20.0 -25.0,-48.1 M0,-6 Q-7.0,-22.0 -7.4,-49.8 M0,-6 Q8.0,-22.0 9.2,-48.5 M0,-6 Q18.0,-18.0 23.2,-46.3 M-35,-45 L-35,-45 M33.5,-43 L33.5,-43" fill="none" stroke="#eee48a" stroke-width="7.4" stroke-linecap="round"/></g>
<g transform="translate(1313.7,1646.2) rotate(-8.8) scale(0.455,0.479)"><path d="M-0.0,-50.0 C1.6,-50.0 3.6,-49.9 5.2,-48.8 C6.8,-47.7 8.8,-45.8 9.7,-43.6 C10.6,-41.4 10.4,-37.8 10.5,-35.6 C10.6,-33.4 9.0,-31.1 10.1,-30.4 C11.2,-29.7 15.2,-30.4 17.3,-31.2 C19.4,-32.0 21.2,-34.9 23.0,-35.2 C24.8,-35.5 27.0,-34.7 28.2,-33.2 C29.4,-31.7 30.5,-28.6 30.2,-26.4 C29.9,-24.2 27.9,-21.9 26.2,-20.0 C24.5,-18.1 21.1,-16.9 19.8,-15.1 C18.5,-13.3 17.5,-10.3 18.6,-9.1 C19.7,-7.9 23.9,-8.0 26.3,-7.9 C28.7,-7.8 31.2,-8.7 33.1,-8.4 C35.0,-8.1 37.1,-7.5 37.9,-6.0 C38.6,-4.5 38.6,-1.3 37.6,0.9 C36.6,3.1 34.2,5.3 32.0,7.3 C29.8,9.2 25.6,10.8 24.3,12.6 C23.0,14.4 22.8,17.2 24.4,18.2 C25.9,19.2 31.1,17.9 33.6,18.5 C36.1,19.1 38.2,20.2 39.6,22.1 C41.0,24.0 42.0,27.5 41.7,29.8 C41.5,32.1 40.4,34.3 38.1,35.8 C35.8,37.3 31.7,38.0 27.7,39.0 C23.7,40.0 18.4,39.8 14.0,41.5 C9.7,43.2 3.9,47.8 1.6,49.2 C-0.7,50.6 1.1,50.3 -0.0,50.0 C-1.1,49.7 -2.2,48.9 -4.8,47.6 C-7.3,46.3 -11.6,43.0 -15.3,42.0 C-19.0,41.0 -23.1,42.0 -26.9,41.7 C-30.6,41.5 -35.2,41.6 -37.8,40.5 C-40.3,39.4 -42.3,37.6 -42.2,35.3 C-42.1,33.0 -39.1,29.0 -37.0,26.9 C-34.9,24.8 -32.3,23.7 -29.8,22.8 C-27.3,21.9 -23.6,22.3 -22.2,21.6 C-20.8,20.9 -20.7,19.9 -21.4,18.4 C-22.1,16.9 -24.1,15.0 -26.3,12.8 C-28.5,10.6 -33.3,7.8 -34.7,5.2 C-36.1,2.6 -35.9,-0.9 -34.8,-2.9 C-33.7,-4.9 -31.0,-6.4 -28.3,-6.9 C-25.6,-7.4 -20.7,-5.8 -18.7,-6.1 C-16.7,-6.4 -16.4,-7.4 -16.3,-8.6 C-16.2,-9.8 -16.5,-11.3 -18.3,-13.0 C-20.1,-14.7 -25.5,-16.3 -27.2,-18.6 C-28.9,-20.9 -29.1,-24.7 -28.4,-27.0 C-27.7,-29.3 -25.5,-31.5 -23.2,-32.2 C-20.9,-32.9 -17.3,-31.6 -14.8,-31.1 C-12.3,-30.7 -9.9,-29.1 -8.4,-29.5 C-6.9,-29.9 -6.2,-31.3 -6.0,-33.5 C-5.8,-35.7 -7.5,-40.2 -7.2,-42.7 C-6.9,-45.2 -5.6,-47.6 -4.4,-48.8 C-3.2,-50.0 -1.6,-50.0 -0.0,-50.0Z" fill="#569852"/><path d="M-0.0,-50.0 C1.6,-50.0 3.6,-49.9 5.2,-48.8 C6.8,-47.7 8.8,-45.8 9.7,-43.6 C10.6,-41.4 10.4,-37.8 10.5,-35.6 C10.6,-33.4 9.0,-31.1 10.1,-30.4 C11.2,-29.7 15.2,-30.4 17.3,-31.2 C19.4,-32.0 21.2,-34.9 23.0,-35.2 C24.8,-35.5 27.0,-34.7 28.2,-33.2 C29.4,-31.7 30.5,-28.6 30.2,-26.4 C29.9,-24.2 27.9,-21.9 26.2,-20.0 C24.5,-18.1 21.1,-16.9 19.8,-15.1 C18.5,-13.3 17.5,-10.3 18.6,-9.1 C19.7,-7.9 23.9,-8.0 26.3,-7.9 C28.7,-7.8 31.2,-8.7 33.1,-8.4 C35.0,-8.1 37.1,-7.5 37.9,-6.0 C38.6,-4.5 38.6,-1.3 37.6,0.9 C36.6,3.1 34.2,5.3 32.0,7.3 C29.8,9.2 25.6,10.8 24.3,12.6 C23.0,14.4 22.8,17.2 24.4,18.2 C25.9,19.2 31.1,17.9 33.6,18.5 C36.1,19.1 38.2,20.2 39.6,22.1 C41.0,24.0 42.0,27.5 41.7,29.8 C41.5,32.1 40.4,34.3 38.1,35.8 C35.8,37.3 31.7,38.0 27.7,39.0 C23.7,40.0 18.4,39.8 14.0,41.5 C9.7,43.2 3.9,47.8 1.6,49.2 C-0.7,50.6 1.1,50.3 -0.0,50.0 C-1.1,49.7 -2.2,48.9 -4.8,47.6 C-7.3,46.3 -11.6,43.0 -15.3,42.0 C-19.0,41.0 -23.1,42.0 -26.9,41.7 C-30.6,41.5 -35.2,41.6 -37.8,40.5 C-40.3,39.4 -42.3,37.6 -42.2,35.3 C-42.1,33.0 -39.1,29.0 -37.0,26.9 C-34.9,24.8 -32.3,23.7 -29.8,22.8 C-27.3,21.9 -23.6,22.3 -22.2,21.6 C-20.8,20.9 -20.7,19.9 -21.4,18.4 C-22.1,16.9 -24.1,15.0 -26.3,12.8 C-28.5,10.6 -33.3,7.8 -34.7,5.2 C-36.1,2.6 -35.9,-0.9 -34.8,-2.9 C-33.7,-4.9 -31.0,-6.4 -28.3,-6.9 C-25.6,-7.4 -20.7,-5.8 -18.7,-6.1 C-16.7,-6.4 -16.4,-7.4 -16.3,-8.6 C-16.2,-9.8 -16.5,-11.3 -18.3,-13.0 C-20.1,-14.7 -25.5,-16.3 -27.2,-18.6 C-28.9,-20.9 -29.1,-24.7 -28.4,-27.0 C-27.7,-29.3 -25.5,-31.5 -23.2,-32.2 C-20.9,-32.9 -17.3,-31.6 -14.8,-31.1 C-12.3,-30.7 -9.9,-29.1 -8.4,-29.5 C-6.9,-29.9 -6.2,-31.3 -6.0,-33.5 C-5.8,-35.7 -7.5,-40.2 -7.2,-42.7 C-6.9,-45.2 -5.6,-47.6 -4.4,-48.8 C-3.2,-50.0 -1.6,-50.0 -0.0,-50.0Z" fill="#b7d543" clip-path="url(#oakR)"/></g>
<path d="M1351.0,1608.7 C1354.5,1610.6 1365.4,1615.0 1372.0,1620.0 C1378.6,1625.0 1387.3,1635.6 1390.4,1638.7" fill="none" stroke="#eee48a" stroke-width="6.5" stroke-linecap="round"/>
<g transform="translate(1390.4,1638.7) rotate(153.5) scale(0.570)"><path d="M-38.1,-44.7 C-38.6,-47.5 -42.5,-51.8 -40.9,-54.9 C-39.3,-58.0 -32.5,-61.2 -28.6,-63.2 C-24.7,-65.2 -21.5,-65.7 -17.7,-66.7 C-13.9,-67.7 -10.2,-68.8 -5.7,-69.0 C-1.2,-69.2 3.9,-68.8 9.1,-68.2 C14.3,-67.6 21.1,-66.7 25.7,-65.5 C30.3,-64.3 34.8,-64.9 36.6,-61.2 C38.4,-57.5 36.3,-47.4 36.4,-43.4 C36.5,-39.4 37.5,-40.2 37.2,-37.0 C36.9,-33.8 36.0,-28.0 34.7,-24.2 C33.4,-20.4 31.4,-17.4 29.4,-14.4 C27.4,-11.4 25.2,-8.6 22.6,-6.2 C20.1,-3.8 16.8,-1.5 14.1,0.0 C11.4,1.5 9.0,2.1 6.6,2.6 C4.2,3.1 3.6,4.5 -0.2,3.0 C-4.0,1.5 -12.3,-3.7 -16.4,-6.4 C-20.5,-9.1 -21.8,-9.8 -24.6,-13.2 C-27.4,-16.6 -30.9,-22.5 -33.1,-26.6 C-35.3,-30.7 -36.9,-35.0 -37.7,-38.0 C-38.5,-41.0 -37.6,-41.9 -38.1,-44.7Z" fill="#9fc63a"/><path d="M-38.1,-44.7 C-39.1,-44.0 -38.5,-41.0 -37.7,-38.0 C-36.9,-35.0 -35.3,-30.7 -33.1,-26.6 C-30.9,-22.5 -27.4,-16.6 -24.6,-13.2 C-21.8,-9.8 -20.5,-9.1 -16.4,-6.4 C-12.3,-3.7 -4.0,1.5 -0.2,3.0 C3.6,4.5 4.2,3.1 6.6,2.6 C9.0,2.1 11.4,1.5 14.1,0.0 C16.8,-1.5 20.1,-3.8 22.6,-6.2 C25.2,-8.6 27.4,-11.4 29.4,-14.4 C31.4,-17.4 33.4,-20.4 34.7,-24.2 C36.0,-28.0 36.9,-33.8 37.2,-37.0 C37.5,-40.2 37.6,-42.7 36.4,-43.4 C35.2,-44.1 31.4,-43.6 30.0,-41.0 C28.6,-38.4 29.3,-32.0 28.0,-28.0 C26.7,-24.0 24.5,-20.2 22.0,-17.0 C19.5,-13.8 16.0,-11.0 13.0,-9.0 C10.0,-7.0 7.2,-5.5 4.0,-5.0 C0.8,-4.5 -2.7,-4.8 -6.0,-6.0 C-9.3,-7.2 -12.8,-9.5 -16.0,-12.0 C-19.2,-14.5 -22.7,-17.8 -25.0,-21.0 C-27.3,-24.2 -28.8,-27.5 -30.0,-31.0 C-31.2,-34.5 -30.6,-39.7 -32.0,-42.0 C-33.4,-44.3 -37.1,-45.4 -38.1,-44.7Z" fill="#eee48a"/><path d="M0,-6 Q-19.0,-20.0 -25.0,-48.1 M0,-6 Q-7.0,-22.0 -7.4,-49.8 M0,-6 Q8.0,-22.0 9.2,-48.5 M0,-6 Q18.0,-18.0 23.2,-46.3 M-35,-45 L-35,-45 M33.5,-43 L33.5,-43" fill="none" stroke="#eee48a" stroke-width="7.4" stroke-linecap="round"/></g>
<g transform="translate(1515.2,1477.0) rotate(-8.5) scale(0.592,0.658)"><path d="M-0.0,-50.0 C1.6,-50.0 3.6,-49.9 5.2,-48.8 C6.8,-47.7 8.8,-45.8 9.7,-43.6 C10.6,-41.4 10.4,-37.8 10.5,-35.6 C10.6,-33.4 9.0,-31.1 10.1,-30.4 C11.2,-29.7 15.2,-30.4 17.3,-31.2 C19.4,-32.0 21.2,-34.9 23.0,-35.2 C24.8,-35.5 27.0,-34.7 28.2,-33.2 C29.4,-31.7 30.5,-28.6 30.2,-26.4 C29.9,-24.2 27.9,-21.9 26.2,-20.0 C24.5,-18.1 21.1,-16.9 19.8,-15.1 C18.5,-13.3 17.5,-10.3 18.6,-9.1 C19.7,-7.9 23.9,-8.0 26.3,-7.9 C28.7,-7.8 31.2,-8.7 33.1,-8.4 C35.0,-8.1 37.1,-7.5 37.9,-6.0 C38.6,-4.5 38.6,-1.3 37.6,0.9 C36.6,3.1 34.2,5.3 32.0,7.3 C29.8,9.2 25.6,10.8 24.3,12.6 C23.0,14.4 22.8,17.2 24.4,18.2 C25.9,19.2 31.1,17.9 33.6,18.5 C36.1,19.1 38.2,20.2 39.6,22.1 C41.0,24.0 42.0,27.5 41.7,29.8 C41.5,32.1 40.4,34.3 38.1,35.8 C35.8,37.3 31.7,38.0 27.7,39.0 C23.7,40.0 18.4,39.8 14.0,41.5 C9.7,43.2 3.9,47.8 1.6,49.2 C-0.7,50.6 1.1,50.3 -0.0,50.0 C-1.1,49.7 -2.2,48.9 -4.8,47.6 C-7.3,46.3 -11.6,43.0 -15.3,42.0 C-19.0,41.0 -23.1,42.0 -26.9,41.7 C-30.6,41.5 -35.2,41.6 -37.8,40.5 C-40.3,39.4 -42.3,37.6 -42.2,35.3 C-42.1,33.0 -39.1,29.0 -37.0,26.9 C-34.9,24.8 -32.3,23.7 -29.8,22.8 C-27.3,21.9 -23.6,22.3 -22.2,21.6 C-20.8,20.9 -20.7,19.9 -21.4,18.4 C-22.1,16.9 -24.1,15.0 -26.3,12.8 C-28.5,10.6 -33.3,7.8 -34.7,5.2 C-36.1,2.6 -35.9,-0.9 -34.8,-2.9 C-33.7,-4.9 -31.0,-6.4 -28.3,-6.9 C-25.6,-7.4 -20.7,-5.8 -18.7,-6.1 C-16.7,-6.4 -16.4,-7.4 -16.3,-8.6 C-16.2,-9.8 -16.5,-11.3 -18.3,-13.0 C-20.1,-14.7 -25.5,-16.3 -27.2,-18.6 C-28.9,-20.9 -29.1,-24.7 -28.4,-27.0 C-27.7,-29.3 -25.5,-31.5 -23.2,-32.2 C-20.9,-32.9 -17.3,-31.6 -14.8,-31.1 C-12.3,-30.7 -9.9,-29.1 -8.4,-29.5 C-6.9,-29.9 -6.2,-31.3 -6.0,-33.5 C-5.8,-35.7 -7.5,-40.2 -7.2,-42.7 C-6.9,-45.2 -5.6,-47.6 -4.4,-48.8 C-3.2,-50.0 -1.6,-50.0 -0.0,-50.0Z" fill="#569852"/><path d="M-0.0,-50.0 C1.6,-50.0 3.6,-49.9 5.2,-48.8 C6.8,-47.7 8.8,-45.8 9.7,-43.6 C10.6,-41.4 10.4,-37.8 10.5,-35.6 C10.6,-33.4 9.0,-31.1 10.1,-30.4 C11.2,-29.7 15.2,-30.4 17.3,-31.2 C19.4,-32.0 21.2,-34.9 23.0,-35.2 C24.8,-35.5 27.0,-34.7 28.2,-33.2 C29.4,-31.7 30.5,-28.6 30.2,-26.4 C29.9,-24.2 27.9,-21.9 26.2,-20.0 C24.5,-18.1 21.1,-16.9 19.8,-15.1 C18.5,-13.3 17.5,-10.3 18.6,-9.1 C19.7,-7.9 23.9,-8.0 26.3,-7.9 C28.7,-7.8 31.2,-8.7 33.1,-8.4 C35.0,-8.1 37.1,-7.5 37.9,-6.0 C38.6,-4.5 38.6,-1.3 37.6,0.9 C36.6,3.1 34.2,5.3 32.0,7.3 C29.8,9.2 25.6,10.8 24.3,12.6 C23.0,14.4 22.8,17.2 24.4,18.2 C25.9,19.2 31.1,17.9 33.6,18.5 C36.1,19.1 38.2,20.2 39.6,22.1 C41.0,24.0 42.0,27.5 41.7,29.8 C41.5,32.1 40.4,34.3 38.1,35.8 C35.8,37.3 31.7,38.0 27.7,39.0 C23.7,40.0 18.4,39.8 14.0,41.5 C9.7,43.2 3.9,47.8 1.6,49.2 C-0.7,50.6 1.1,50.3 -0.0,50.0 C-1.1,49.7 -2.2,48.9 -4.8,47.6 C-7.3,46.3 -11.6,43.0 -15.3,42.0 C-19.0,41.0 -23.1,42.0 -26.9,41.7 C-30.6,41.5 -35.2,41.6 -37.8,40.5 C-40.3,39.4 -42.3,37.6 -42.2,35.3 C-42.1,33.0 -39.1,29.0 -37.0,26.9 C-34.9,24.8 -32.3,23.7 -29.8,22.8 C-27.3,21.9 -23.6,22.3 -22.2,21.6 C-20.8,20.9 -20.7,19.9 -21.4,18.4 C-22.1,16.9 -24.1,15.0 -26.3,12.8 C-28.5,10.6 -33.3,7.8 -34.7,5.2 C-36.1,2.6 -35.9,-0.9 -34.8,-2.9 C-33.7,-4.9 -31.0,-6.4 -28.3,-6.9 C-25.6,-7.4 -20.7,-5.8 -18.7,-6.1 C-16.7,-6.4 -16.4,-7.4 -16.3,-8.6 C-16.2,-9.8 -16.5,-11.3 -18.3,-13.0 C-20.1,-14.7 -25.5,-16.3 -27.2,-18.6 C-28.9,-20.9 -29.1,-24.7 -28.4,-27.0 C-27.7,-29.3 -25.5,-31.5 -23.2,-32.2 C-20.9,-32.9 -17.3,-31.6 -14.8,-31.1 C-12.3,-30.7 -9.9,-29.1 -8.4,-29.5 C-6.9,-29.9 -6.2,-31.3 -6.0,-33.5 C-5.8,-35.7 -7.5,-40.2 -7.2,-42.7 C-6.9,-45.2 -5.6,-47.6 -4.4,-48.8 C-3.2,-50.0 -1.6,-50.0 -0.0,-50.0Z" fill="#b7d543" clip-path="url(#oakR)"/></g>
<path d="M1572.0,1460.4 C1574.2,1458.2 1580.6,1450.8 1585.0,1447.0 C1589.4,1443.2 1596.2,1439.1 1598.5,1437.5" fill="none" stroke="#eee48a" stroke-width="6.5" stroke-linecap="round"/>
<g transform="translate(1598.5,1437.5) rotate(66.5) scale(0.430)"><path d="M-38.1,-44.7 C-38.6,-47.5 -42.5,-51.8 -40.9,-54.9 C-39.3,-58.0 -32.5,-61.2 -28.6,-63.2 C-24.7,-65.2 -21.5,-65.7 -17.7,-66.7 C-13.9,-67.7 -10.2,-68.8 -5.7,-69.0 C-1.2,-69.2 3.9,-68.8 9.1,-68.2 C14.3,-67.6 21.1,-66.7 25.7,-65.5 C30.3,-64.3 34.8,-64.9 36.6,-61.2 C38.4,-57.5 36.3,-47.4 36.4,-43.4 C36.5,-39.4 37.5,-40.2 37.2,-37.0 C36.9,-33.8 36.0,-28.0 34.7,-24.2 C33.4,-20.4 31.4,-17.4 29.4,-14.4 C27.4,-11.4 25.2,-8.6 22.6,-6.2 C20.1,-3.8 16.8,-1.5 14.1,0.0 C11.4,1.5 9.0,2.1 6.6,2.6 C4.2,3.1 3.6,4.5 -0.2,3.0 C-4.0,1.5 -12.3,-3.7 -16.4,-6.4 C-20.5,-9.1 -21.8,-9.8 -24.6,-13.2 C-27.4,-16.6 -30.9,-22.5 -33.1,-26.6 C-35.3,-30.7 -36.9,-35.0 -37.7,-38.0 C-38.5,-41.0 -37.6,-41.9 -38.1,-44.7Z" fill="#9fc63a"/><path d="M-38.1,-44.7 C-39.1,-44.0 -38.5,-41.0 -37.7,-38.0 C-36.9,-35.0 -35.3,-30.7 -33.1,-26.6 C-30.9,-22.5 -27.4,-16.6 -24.6,-13.2 C-21.8,-9.8 -20.5,-9.1 -16.4,-6.4 C-12.3,-3.7 -4.0,1.5 -0.2,3.0 C3.6,4.5 4.2,3.1 6.6,2.6 C9.0,2.1 11.4,1.5 14.1,0.0 C16.8,-1.5 20.1,-3.8 22.6,-6.2 C25.2,-8.6 27.4,-11.4 29.4,-14.4 C31.4,-17.4 33.4,-20.4 34.7,-24.2 C36.0,-28.0 36.9,-33.8 37.2,-37.0 C37.5,-40.2 37.6,-42.7 36.4,-43.4 C35.2,-44.1 31.4,-43.6 30.0,-41.0 C28.6,-38.4 29.3,-32.0 28.0,-28.0 C26.7,-24.0 24.5,-20.2 22.0,-17.0 C19.5,-13.8 16.0,-11.0 13.0,-9.0 C10.0,-7.0 7.2,-5.5 4.0,-5.0 C0.8,-4.5 -2.7,-4.8 -6.0,-6.0 C-9.3,-7.2 -12.8,-9.5 -16.0,-12.0 C-19.2,-14.5 -22.7,-17.8 -25.0,-21.0 C-27.3,-24.2 -28.8,-27.5 -30.0,-31.0 C-31.2,-34.5 -30.6,-39.7 -32.0,-42.0 C-33.4,-44.3 -37.1,-45.4 -38.1,-44.7Z" fill="#eee48a"/><path d="M0,-6 Q-19.0,-20.0 -25.0,-48.1 M0,-6 Q-7.0,-22.0 -7.4,-49.8 M0,-6 Q8.0,-22.0 9.2,-48.5 M0,-6 Q18.0,-18.0 23.2,-46.3 M-35,-45 L-35,-45 M33.5,-43 L33.5,-43" fill="none" stroke="#eee48a" stroke-width="7.4" stroke-linecap="round"/></g>
<g transform="translate(1604.2,1503.5) rotate(13.0) scale(0.601,0.668)"><path d="M-0.0,-50.0 C1.6,-50.0 3.6,-49.9 5.2,-48.8 C6.8,-47.7 8.8,-45.8 9.7,-43.6 C10.6,-41.4 10.4,-37.8 10.5,-35.6 C10.6,-33.4 9.0,-31.1 10.1,-30.4 C11.2,-29.7 15.2,-30.4 17.3,-31.2 C19.4,-32.0 21.2,-34.9 23.0,-35.2 C24.8,-35.5 27.0,-34.7 28.2,-33.2 C29.4,-31.7 30.5,-28.6 30.2,-26.4 C29.9,-24.2 27.9,-21.9 26.2,-20.0 C24.5,-18.1 21.1,-16.9 19.8,-15.1 C18.5,-13.3 17.5,-10.3 18.6,-9.1 C19.7,-7.9 23.9,-8.0 26.3,-7.9 C28.7,-7.8 31.2,-8.7 33.1,-8.4 C35.0,-8.1 37.1,-7.5 37.9,-6.0 C38.6,-4.5 38.6,-1.3 37.6,0.9 C36.6,3.1 34.2,5.3 32.0,7.3 C29.8,9.2 25.6,10.8 24.3,12.6 C23.0,14.4 22.8,17.2 24.4,18.2 C25.9,19.2 31.1,17.9 33.6,18.5 C36.1,19.1 38.2,20.2 39.6,22.1 C41.0,24.0 42.0,27.5 41.7,29.8 C41.5,32.1 40.4,34.3 38.1,35.8 C35.8,37.3 31.7,38.0 27.7,39.0 C23.7,40.0 18.4,39.8 14.0,41.5 C9.7,43.2 3.9,47.8 1.6,49.2 C-0.7,50.6 1.1,50.3 -0.0,50.0 C-1.1,49.7 -2.2,48.9 -4.8,47.6 C-7.3,46.3 -11.6,43.0 -15.3,42.0 C-19.0,41.0 -23.1,42.0 -26.9,41.7 C-30.6,41.5 -35.2,41.6 -37.8,40.5 C-40.3,39.4 -42.3,37.6 -42.2,35.3 C-42.1,33.0 -39.1,29.0 -37.0,26.9 C-34.9,24.8 -32.3,23.7 -29.8,22.8 C-27.3,21.9 -23.6,22.3 -22.2,21.6 C-20.8,20.9 -20.7,19.9 -21.4,18.4 C-22.1,16.9 -24.1,15.0 -26.3,12.8 C-28.5,10.6 -33.3,7.8 -34.7,5.2 C-36.1,2.6 -35.9,-0.9 -34.8,-2.9 C-33.7,-4.9 -31.0,-6.4 -28.3,-6.9 C-25.6,-7.4 -20.7,-5.8 -18.7,-6.1 C-16.7,-6.4 -16.4,-7.4 -16.3,-8.6 C-16.2,-9.8 -16.5,-11.3 -18.3,-13.0 C-20.1,-14.7 -25.5,-16.3 -27.2,-18.6 C-28.9,-20.9 -29.1,-24.7 -28.4,-27.0 C-27.7,-29.3 -25.5,-31.5 -23.2,-32.2 C-20.9,-32.9 -17.3,-31.6 -14.8,-31.1 C-12.3,-30.7 -9.9,-29.1 -8.4,-29.5 C-6.9,-29.9 -6.2,-31.3 -6.0,-33.5 C-5.8,-35.7 -7.5,-40.2 -7.2,-42.7 C-6.9,-45.2 -5.6,-47.6 -4.4,-48.8 C-3.2,-50.0 -1.6,-50.0 -0.0,-50.0Z" fill="#569852"/><path d="M-0.0,-50.0 C1.6,-50.0 3.6,-49.9 5.2,-48.8 C6.8,-47.7 8.8,-45.8 9.7,-43.6 C10.6,-41.4 10.4,-37.8 10.5,-35.6 C10.6,-33.4 9.0,-31.1 10.1,-30.4 C11.2,-29.7 15.2,-30.4 17.3,-31.2 C19.4,-32.0 21.2,-34.9 23.0,-35.2 C24.8,-35.5 27.0,-34.7 28.2,-33.2 C29.4,-31.7 30.5,-28.6 30.2,-26.4 C29.9,-24.2 27.9,-21.9 26.2,-20.0 C24.5,-18.1 21.1,-16.9 19.8,-15.1 C18.5,-13.3 17.5,-10.3 18.6,-9.1 C19.7,-7.9 23.9,-8.0 26.3,-7.9 C28.7,-7.8 31.2,-8.7 33.1,-8.4 C35.0,-8.1 37.1,-7.5 37.9,-6.0 C38.6,-4.5 38.6,-1.3 37.6,0.9 C36.6,3.1 34.2,5.3 32.0,7.3 C29.8,9.2 25.6,10.8 24.3,12.6 C23.0,14.4 22.8,17.2 24.4,18.2 C25.9,19.2 31.1,17.9 33.6,18.5 C36.1,19.1 38.2,20.2 39.6,22.1 C41.0,24.0 42.0,27.5 41.7,29.8 C41.5,32.1 40.4,34.3 38.1,35.8 C35.8,37.3 31.7,38.0 27.7,39.0 C23.7,40.0 18.4,39.8 14.0,41.5 C9.7,43.2 3.9,47.8 1.6,49.2 C-0.7,50.6 1.1,50.3 -0.0,50.0 C-1.1,49.7 -2.2,48.9 -4.8,47.6 C-7.3,46.3 -11.6,43.0 -15.3,42.0 C-19.0,41.0 -23.1,42.0 -26.9,41.7 C-30.6,41.5 -35.2,41.6 -37.8,40.5 C-40.3,39.4 -42.3,37.6 -42.2,35.3 C-42.1,33.0 -39.1,29.0 -37.0,26.9 C-34.9,24.8 -32.3,23.7 -29.8,22.8 C-27.3,21.9 -23.6,22.3 -22.2,21.6 C-20.8,20.9 -20.7,19.9 -21.4,18.4 C-22.1,16.9 -24.1,15.0 -26.3,12.8 C-28.5,10.6 -33.3,7.8 -34.7,5.2 C-36.1,2.6 -35.9,-0.9 -34.8,-2.9 C-33.7,-4.9 -31.0,-6.4 -28.3,-6.9 C-25.6,-7.4 -20.7,-5.8 -18.7,-6.1 C-16.7,-6.4 -16.4,-7.4 -16.3,-8.6 C-16.2,-9.8 -16.5,-11.3 -18.3,-13.0 C-20.1,-14.7 -25.5,-16.3 -27.2,-18.6 C-28.9,-20.9 -29.1,-24.7 -28.4,-27.0 C-27.7,-29.3 -25.5,-31.5 -23.2,-32.2 C-20.9,-32.9 -17.3,-31.6 -14.8,-31.1 C-12.3,-30.7 -9.9,-29.1 -8.4,-29.5 C-6.9,-29.9 -6.2,-31.3 -6.0,-33.5 C-5.8,-35.7 -7.5,-40.2 -7.2,-42.7 C-6.9,-45.2 -5.6,-47.6 -4.4,-48.8 C-3.2,-50.0 -1.6,-50.0 -0.0,-50.0Z" fill="#b7d543" clip-path="url(#oakR)"/></g>
<path d="M1478.5,1561.0 C1476.8,1564.5 1473.0,1576.1 1468.0,1582.0 C1463.0,1587.9 1451.6,1593.9 1448.3,1596.3" fill="none" stroke="#eee48a" stroke-width="6.5" stroke-linecap="round"/>
<g transform="translate(1478.5,1561.0) rotate(10.0) scale(0.600)"><path d="M-38.1,-44.7 C-38.6,-47.5 -42.5,-51.8 -40.9,-54.9 C-39.3,-58.0 -32.5,-61.2 -28.6,-63.2 C-24.7,-65.2 -21.5,-65.7 -17.7,-66.7 C-13.9,-67.7 -10.2,-68.8 -5.7,-69.0 C-1.2,-69.2 3.9,-68.8 9.1,-68.2 C14.3,-67.6 21.1,-66.7 25.7,-65.5 C30.3,-64.3 34.8,-64.9 36.6,-61.2 C38.4,-57.5 36.3,-47.4 36.4,-43.4 C36.5,-39.4 37.5,-40.2 37.2,-37.0 C36.9,-33.8 36.0,-28.0 34.7,-24.2 C33.4,-20.4 31.4,-17.4 29.4,-14.4 C27.4,-11.4 25.2,-8.6 22.6,-6.2 C20.1,-3.8 16.8,-1.5 14.1,0.0 C11.4,1.5 9.0,2.1 6.6,2.6 C4.2,3.1 3.6,4.5 -0.2,3.0 C-4.0,1.5 -12.3,-3.7 -16.4,-6.4 C-20.5,-9.1 -21.8,-9.8 -24.6,-13.2 C-27.4,-16.6 -30.9,-22.5 -33.1,-26.6 C-35.3,-30.7 -36.9,-35.0 -37.7,-38.0 C-38.5,-41.0 -37.6,-41.9 -38.1,-44.7Z" fill="#9fc63a"/><path d="M-38.1,-44.7 C-39.1,-44.0 -38.5,-41.0 -37.7,-38.0 C-36.9,-35.0 -35.3,-30.7 -33.1,-26.6 C-30.9,-22.5 -27.4,-16.6 -24.6,-13.2 C-21.8,-9.8 -20.5,-9.1 -16.4,-6.4 C-12.3,-3.7 -4.0,1.5 -0.2,3.0 C3.6,4.5 4.2,3.1 6.6,2.6 C9.0,2.1 11.4,1.5 14.1,0.0 C16.8,-1.5 20.1,-3.8 22.6,-6.2 C25.2,-8.6 27.4,-11.4 29.4,-14.4 C31.4,-17.4 33.4,-20.4 34.7,-24.2 C36.0,-28.0 36.9,-33.8 37.2,-37.0 C37.5,-40.2 37.6,-42.7 36.4,-43.4 C35.2,-44.1 31.4,-43.6 30.0,-41.0 C28.6,-38.4 29.3,-32.0 28.0,-28.0 C26.7,-24.0 24.5,-20.2 22.0,-17.0 C19.5,-13.8 16.0,-11.0 13.0,-9.0 C10.0,-7.0 7.2,-5.5 4.0,-5.0 C0.8,-4.5 -2.7,-4.8 -6.0,-6.0 C-9.3,-7.2 -12.8,-9.5 -16.0,-12.0 C-19.2,-14.5 -22.7,-17.8 -25.0,-21.0 C-27.3,-24.2 -28.8,-27.5 -30.0,-31.0 C-31.2,-34.5 -30.6,-39.7 -32.0,-42.0 C-33.4,-44.3 -37.1,-45.4 -38.1,-44.7Z" fill="#eee48a"/><path d="M0,-6 Q-19.0,-20.0 -25.0,-48.1 M0,-6 Q-7.0,-22.0 -7.4,-49.8 M0,-6 Q8.0,-22.0 9.2,-48.5 M0,-6 Q18.0,-18.0 23.2,-46.3 M-35,-45 L-35,-45 M33.5,-43 L33.5,-43" fill="none" stroke="#eee48a" stroke-width="7.4" stroke-linecap="round"/></g>
<g transform="translate(1534.2,1557.5) rotate(-149.9) scale(-0.759,0.844)"><path d="M-0.0,-50.0 C1.4,-50.5 3.9,-49.4 5.7,-47.9 C7.5,-46.4 9.5,-43.2 10.7,-40.8 C11.9,-38.4 12.2,-35.8 13.0,-33.4 C13.8,-31.0 14.3,-27.3 15.5,-26.6 C16.6,-25.9 18.3,-27.7 19.9,-29.0 C21.5,-30.3 23.6,-34.4 25.0,-34.6 C26.4,-34.8 27.6,-32.1 28.1,-30.0 C28.7,-27.9 28.8,-24.7 28.3,-22.0 C27.8,-19.3 26.1,-16.5 25.2,-14.0 C24.3,-11.5 22.2,-7.3 23.1,-7.1 C24.1,-6.9 29.2,-13.1 30.9,-13.0 C32.6,-12.9 33.1,-9.1 33.1,-6.7 C33.1,-4.3 32.0,-0.7 30.6,1.5 C29.2,3.7 26.3,4.7 24.7,6.5 C23.1,8.3 20.1,11.7 21.0,12.5 C21.9,13.3 29.1,10.5 30.3,11.5 C31.5,12.5 29.5,16.3 28.2,18.4 C26.9,20.4 24.9,22.1 22.5,23.8 C20.1,25.5 15.2,27.0 13.5,28.6 C11.8,30.2 13.2,30.9 12.1,33.4 C11.0,35.9 8.8,40.6 7.2,43.5 C5.6,46.4 4.0,49.7 2.4,50.7 C0.8,51.7 -2.5,50.9 -2.4,49.3 C-2.3,47.7 1.5,43.8 3.0,41.2 C4.5,38.6 6.3,36.1 6.4,33.6 C6.5,31.1 5.1,28.3 3.7,26.4 C2.3,24.5 0.1,23.1 -2.1,22.0 C-4.3,20.9 -7.2,20.8 -9.7,19.8 C-12.1,18.8 -15.6,17.5 -16.8,16.1 C-18.0,14.7 -17.9,12.8 -17.0,11.6 C-16.1,10.4 -13.3,9.8 -11.4,9.1 C-9.5,8.3 -6.0,8.0 -5.5,7.1 C-5.0,6.1 -6.6,5.0 -8.1,3.4 C-9.5,1.8 -12.5,-0.5 -14.2,-2.6 C-15.9,-4.7 -18.4,-7.7 -18.3,-9.0 C-18.2,-10.3 -15.6,-10.3 -13.3,-10.5 C-11.0,-10.7 -4.9,-9.1 -4.5,-10.1 C-4.1,-11.1 -9.1,-14.2 -11.2,-16.3 C-13.3,-18.4 -16.4,-20.9 -17.1,-22.9 C-17.8,-24.8 -17.3,-27.2 -15.2,-28.0 C-13.1,-28.8 -6.4,-26.1 -4.5,-27.4 C-2.6,-28.7 -4.2,-32.9 -3.9,-35.8 C-3.6,-38.7 -3.6,-42.5 -3.0,-44.9 C-2.4,-47.3 -1.4,-49.5 -0.0,-50.0Z" fill="#569852"/><path d="M-0.0,-50.0 C1.4,-50.5 3.9,-49.4 5.7,-47.9 C7.5,-46.4 9.5,-43.2 10.7,-40.8 C11.9,-38.4 12.2,-35.8 13.0,-33.4 C13.8,-31.0 14.3,-27.3 15.5,-26.6 C16.6,-25.9 18.3,-27.7 19.9,-29.0 C21.5,-30.3 23.6,-34.4 25.0,-34.6 C26.4,-34.8 27.6,-32.1 28.1,-30.0 C28.7,-27.9 28.8,-24.7 28.3,-22.0 C27.8,-19.3 26.1,-16.5 25.2,-14.0 C24.3,-11.5 22.2,-7.3 23.1,-7.1 C24.1,-6.9 29.2,-13.1 30.9,-13.0 C32.6,-12.9 33.1,-9.1 33.1,-6.7 C33.1,-4.3 32.0,-0.7 30.6,1.5 C29.2,3.7 26.3,4.7 24.7,6.5 C23.1,8.3 20.1,11.7 21.0,12.5 C21.9,13.3 29.1,10.5 30.3,11.5 C31.5,12.5 29.5,16.3 28.2,18.4 C26.9,20.4 24.9,22.1 22.5,23.8 C20.1,25.5 15.2,27.0 13.5,28.6 C11.8,30.2 13.2,30.9 12.1,33.4 C11.0,35.9 8.8,40.6 7.2,43.5 C5.6,46.4 4.0,49.7 2.4,50.7 C0.8,51.7 -2.5,50.9 -2.4,49.3 C-2.3,47.7 1.5,43.8 3.0,41.2 C4.5,38.6 6.3,36.1 6.4,33.6 C6.5,31.1 5.1,28.3 3.7,26.4 C2.3,24.5 0.1,23.1 -2.1,22.0 C-4.3,20.9 -7.2,20.8 -9.7,19.8 C-12.1,18.8 -15.6,17.5 -16.8,16.1 C-18.0,14.7 -17.9,12.8 -17.0,11.6 C-16.1,10.4 -13.3,9.8 -11.4,9.1 C-9.5,8.3 -6.0,8.0 -5.5,7.1 C-5.0,6.1 -6.6,5.0 -8.1,3.4 C-9.5,1.8 -12.5,-0.5 -14.2,-2.6 C-15.9,-4.7 -18.4,-7.7 -18.3,-9.0 C-18.2,-10.3 -15.6,-10.3 -13.3,-10.5 C-11.0,-10.7 -4.9,-9.1 -4.5,-10.1 C-4.1,-11.1 -9.1,-14.2 -11.2,-16.3 C-13.3,-18.4 -16.4,-20.9 -17.1,-22.9 C-17.8,-24.8 -17.3,-27.2 -15.2,-28.0 C-13.1,-28.8 -6.4,-26.1 -4.5,-27.4 C-2.6,-28.7 -4.2,-32.9 -3.9,-35.8 C-3.6,-38.7 -3.6,-42.5 -3.0,-44.9 C-2.4,-47.3 -1.4,-49.5 -0.0,-50.0Z" fill="#b7d543" clip-path="url(#aruR)"/></g>
<g transform="translate(1469.0,1629.9) rotate(45.8) scale(0.442,0.491)"><path d="M-0.0,-50.0 C1.6,-50.0 3.6,-49.9 5.2,-48.8 C6.8,-47.7 8.8,-45.8 9.7,-43.6 C10.6,-41.4 10.4,-37.8 10.5,-35.6 C10.6,-33.4 9.0,-31.1 10.1,-30.4 C11.2,-29.7 15.2,-30.4 17.3,-31.2 C19.4,-32.0 21.2,-34.9 23.0,-35.2 C24.8,-35.5 27.0,-34.7 28.2,-33.2 C29.4,-31.7 30.5,-28.6 30.2,-26.4 C29.9,-24.2 27.9,-21.9 26.2,-20.0 C24.5,-18.1 21.1,-16.9 19.8,-15.1 C18.5,-13.3 17.5,-10.3 18.6,-9.1 C19.7,-7.9 23.9,-8.0 26.3,-7.9 C28.7,-7.8 31.2,-8.7 33.1,-8.4 C35.0,-8.1 37.1,-7.5 37.9,-6.0 C38.6,-4.5 38.6,-1.3 37.6,0.9 C36.6,3.1 34.2,5.3 32.0,7.3 C29.8,9.2 25.6,10.8 24.3,12.6 C23.0,14.4 22.8,17.2 24.4,18.2 C25.9,19.2 31.1,17.9 33.6,18.5 C36.1,19.1 38.2,20.2 39.6,22.1 C41.0,24.0 42.0,27.5 41.7,29.8 C41.5,32.1 40.4,34.3 38.1,35.8 C35.8,37.3 31.7,38.0 27.7,39.0 C23.7,40.0 18.4,39.8 14.0,41.5 C9.7,43.2 3.9,47.8 1.6,49.2 C-0.7,50.6 1.1,50.3 -0.0,50.0 C-1.1,49.7 -2.2,48.9 -4.8,47.6 C-7.3,46.3 -11.6,43.0 -15.3,42.0 C-19.0,41.0 -23.1,42.0 -26.9,41.7 C-30.6,41.5 -35.2,41.6 -37.8,40.5 C-40.3,39.4 -42.3,37.6 -42.2,35.3 C-42.1,33.0 -39.1,29.0 -37.0,26.9 C-34.9,24.8 -32.3,23.7 -29.8,22.8 C-27.3,21.9 -23.6,22.3 -22.2,21.6 C-20.8,20.9 -20.7,19.9 -21.4,18.4 C-22.1,16.9 -24.1,15.0 -26.3,12.8 C-28.5,10.6 -33.3,7.8 -34.7,5.2 C-36.1,2.6 -35.9,-0.9 -34.8,-2.9 C-33.7,-4.9 -31.0,-6.4 -28.3,-6.9 C-25.6,-7.4 -20.7,-5.8 -18.7,-6.1 C-16.7,-6.4 -16.4,-7.4 -16.3,-8.6 C-16.2,-9.8 -16.5,-11.3 -18.3,-13.0 C-20.1,-14.7 -25.5,-16.3 -27.2,-18.6 C-28.9,-20.9 -29.1,-24.7 -28.4,-27.0 C-27.7,-29.3 -25.5,-31.5 -23.2,-32.2 C-20.9,-32.9 -17.3,-31.6 -14.8,-31.1 C-12.3,-30.7 -9.9,-29.1 -8.4,-29.5 C-6.9,-29.9 -6.2,-31.3 -6.0,-33.5 C-5.8,-35.7 -7.5,-40.2 -7.2,-42.7 C-6.9,-45.2 -5.6,-47.6 -4.4,-48.8 C-3.2,-50.0 -1.6,-50.0 -0.0,-50.0Z" fill="#569852"/><path d="M-0.0,-50.0 C1.6,-50.0 3.6,-49.9 5.2,-48.8 C6.8,-47.7 8.8,-45.8 9.7,-43.6 C10.6,-41.4 10.4,-37.8 10.5,-35.6 C10.6,-33.4 9.0,-31.1 10.1,-30.4 C11.2,-29.7 15.2,-30.4 17.3,-31.2 C19.4,-32.0 21.2,-34.9 23.0,-35.2 C24.8,-35.5 27.0,-34.7 28.2,-33.2 C29.4,-31.7 30.5,-28.6 30.2,-26.4 C29.9,-24.2 27.9,-21.9 26.2,-20.0 C24.5,-18.1 21.1,-16.9 19.8,-15.1 C18.5,-13.3 17.5,-10.3 18.6,-9.1 C19.7,-7.9 23.9,-8.0 26.3,-7.9 C28.7,-7.8 31.2,-8.7 33.1,-8.4 C35.0,-8.1 37.1,-7.5 37.9,-6.0 C38.6,-4.5 38.6,-1.3 37.6,0.9 C36.6,3.1 34.2,5.3 32.0,7.3 C29.8,9.2 25.6,10.8 24.3,12.6 C23.0,14.4 22.8,17.2 24.4,18.2 C25.9,19.2 31.1,17.9 33.6,18.5 C36.1,19.1 38.2,20.2 39.6,22.1 C41.0,24.0 42.0,27.5 41.7,29.8 C41.5,32.1 40.4,34.3 38.1,35.8 C35.8,37.3 31.7,38.0 27.7,39.0 C23.7,40.0 18.4,39.8 14.0,41.5 C9.7,43.2 3.9,47.8 1.6,49.2 C-0.7,50.6 1.1,50.3 -0.0,50.0 C-1.1,49.7 -2.2,48.9 -4.8,47.6 C-7.3,46.3 -11.6,43.0 -15.3,42.0 C-19.0,41.0 -23.1,42.0 -26.9,41.7 C-30.6,41.5 -35.2,41.6 -37.8,40.5 C-40.3,39.4 -42.3,37.6 -42.2,35.3 C-42.1,33.0 -39.1,29.0 -37.0,26.9 C-34.9,24.8 -32.3,23.7 -29.8,22.8 C-27.3,21.9 -23.6,22.3 -22.2,21.6 C-20.8,20.9 -20.7,19.9 -21.4,18.4 C-22.1,16.9 -24.1,15.0 -26.3,12.8 C-28.5,10.6 -33.3,7.8 -34.7,5.2 C-36.1,2.6 -35.9,-0.9 -34.8,-2.9 C-33.7,-4.9 -31.0,-6.4 -28.3,-6.9 C-25.6,-7.4 -20.7,-5.8 -18.7,-6.1 C-16.7,-6.4 -16.4,-7.4 -16.3,-8.6 C-16.2,-9.8 -16.5,-11.3 -18.3,-13.0 C-20.1,-14.7 -25.5,-16.3 -27.2,-18.6 C-28.9,-20.9 -29.1,-24.7 -28.4,-27.0 C-27.7,-29.3 -25.5,-31.5 -23.2,-32.2 C-20.9,-32.9 -17.3,-31.6 -14.8,-31.1 C-12.3,-30.7 -9.9,-29.1 -8.4,-29.5 C-6.9,-29.9 -6.2,-31.3 -6.0,-33.5 C-5.8,-35.7 -7.5,-40.2 -7.2,-42.7 C-6.9,-45.2 -5.6,-47.6 -4.4,-48.8 C-3.2,-50.0 -1.6,-50.0 -0.0,-50.0Z" fill="#b7d543" clip-path="url(#oakR)"/></g>
<g transform="translate(1105.5,1023.9) rotate(28.9) scale(1.323,1.323)"><path d="M-0.0,-50.0 C1.4,-50.5 3.9,-49.4 5.7,-47.9 C7.5,-46.4 9.5,-43.2 10.7,-40.8 C11.9,-38.4 12.2,-35.8 13.0,-33.4 C13.8,-31.0 14.3,-27.3 15.5,-26.6 C16.6,-25.9 18.3,-27.7 19.9,-29.0 C21.5,-30.3 23.6,-34.4 25.0,-34.6 C26.4,-34.8 27.6,-32.1 28.1,-30.0 C28.7,-27.9 28.8,-24.7 28.3,-22.0 C27.8,-19.3 26.1,-16.5 25.2,-14.0 C24.3,-11.5 22.2,-7.3 23.1,-7.1 C24.1,-6.9 29.2,-13.1 30.9,-13.0 C32.6,-12.9 33.1,-9.1 33.1,-6.7 C33.1,-4.3 32.0,-0.7 30.6,1.5 C29.2,3.7 26.3,4.7 24.7,6.5 C23.1,8.3 20.1,11.7 21.0,12.5 C21.9,13.3 29.1,10.5 30.3,11.5 C31.5,12.5 29.5,16.3 28.2,18.4 C26.9,20.4 24.9,22.1 22.5,23.8 C20.1,25.5 15.2,27.0 13.5,28.6 C11.8,30.2 13.2,30.9 12.1,33.4 C11.0,35.9 8.8,40.6 7.2,43.5 C5.6,46.4 4.0,49.7 2.4,50.7 C0.8,51.7 -2.5,50.9 -2.4,49.3 C-2.3,47.7 1.5,43.8 3.0,41.2 C4.5,38.6 6.3,36.1 6.4,33.6 C6.5,31.1 5.1,28.3 3.7,26.4 C2.3,24.5 0.1,23.1 -2.1,22.0 C-4.3,20.9 -7.2,20.8 -9.7,19.8 C-12.1,18.8 -15.6,17.5 -16.8,16.1 C-18.0,14.7 -17.9,12.8 -17.0,11.6 C-16.1,10.4 -13.3,9.8 -11.4,9.1 C-9.5,8.3 -6.0,8.0 -5.5,7.1 C-5.0,6.1 -6.6,5.0 -8.1,3.4 C-9.5,1.8 -12.5,-0.5 -14.2,-2.6 C-15.9,-4.7 -18.4,-7.7 -18.3,-9.0 C-18.2,-10.3 -15.6,-10.3 -13.3,-10.5 C-11.0,-10.7 -4.9,-9.1 -4.5,-10.1 C-4.1,-11.1 -9.1,-14.2 -11.2,-16.3 C-13.3,-18.4 -16.4,-20.9 -17.1,-22.9 C-17.8,-24.8 -17.3,-27.2 -15.2,-28.0 C-13.1,-28.8 -6.4,-26.1 -4.5,-27.4 C-2.6,-28.7 -4.2,-32.9 -3.9,-35.8 C-3.6,-38.7 -3.6,-42.5 -3.0,-44.9 C-2.4,-47.3 -1.4,-49.5 -0.0,-50.0Z" fill="#569852"/><path d="M-0.0,-50.0 C1.4,-50.5 3.9,-49.4 5.7,-47.9 C7.5,-46.4 9.5,-43.2 10.7,-40.8 C11.9,-38.4 12.2,-35.8 13.0,-33.4 C13.8,-31.0 14.3,-27.3 15.5,-26.6 C16.6,-25.9 18.3,-27.7 19.9,-29.0 C21.5,-30.3 23.6,-34.4 25.0,-34.6 C26.4,-34.8 27.6,-32.1 28.1,-30.0 C28.7,-27.9 28.8,-24.7 28.3,-22.0 C27.8,-19.3 26.1,-16.5 25.2,-14.0 C24.3,-11.5 22.2,-7.3 23.1,-7.1 C24.1,-6.9 29.2,-13.1 30.9,-13.0 C32.6,-12.9 33.1,-9.1 33.1,-6.7 C33.1,-4.3 32.0,-0.7 30.6,1.5 C29.2,3.7 26.3,4.7 24.7,6.5 C23.1,8.3 20.1,11.7 21.0,12.5 C21.9,13.3 29.1,10.5 30.3,11.5 C31.5,12.5 29.5,16.3 28.2,18.4 C26.9,20.4 24.9,22.1 22.5,23.8 C20.1,25.5 15.2,27.0 13.5,28.6 C11.8,30.2 13.2,30.9 12.1,33.4 C11.0,35.9 8.8,40.6 7.2,43.5 C5.6,46.4 4.0,49.7 2.4,50.7 C0.8,51.7 -2.5,50.9 -2.4,49.3 C-2.3,47.7 1.5,43.8 3.0,41.2 C4.5,38.6 6.3,36.1 6.4,33.6 C6.5,31.1 5.1,28.3 3.7,26.4 C2.3,24.5 0.1,23.1 -2.1,22.0 C-4.3,20.9 -7.2,20.8 -9.7,19.8 C-12.1,18.8 -15.6,17.5 -16.8,16.1 C-18.0,14.7 -17.9,12.8 -17.0,11.6 C-16.1,10.4 -13.3,9.8 -11.4,9.1 C-9.5,8.3 -6.0,8.0 -5.5,7.1 C-5.0,6.1 -6.6,5.0 -8.1,3.4 C-9.5,1.8 -12.5,-0.5 -14.2,-2.6 C-15.9,-4.7 -18.4,-7.7 -18.3,-9.0 C-18.2,-10.3 -15.6,-10.3 -13.3,-10.5 C-11.0,-10.7 -4.9,-9.1 -4.5,-10.1 C-4.1,-11.1 -9.1,-14.2 -11.2,-16.3 C-13.3,-18.4 -16.4,-20.9 -17.1,-22.9 C-17.8,-24.8 -17.3,-27.2 -15.2,-28.0 C-13.1,-28.8 -6.4,-26.1 -4.5,-27.4 C-2.6,-28.7 -4.2,-32.9 -3.9,-35.8 C-3.6,-38.7 -3.6,-42.5 -3.0,-44.9 C-2.4,-47.3 -1.4,-49.5 -0.0,-50.0Z" fill="#b7d543" clip-path="url(#aruR)"/></g>
<path d="M1148.3,1184.3 C1145.5,1187.4 1138.0,1197.4 1131.8,1202.9 C1125.6,1208.4 1117.6,1213.1 1111.0,1217.4 C1104.4,1221.7 1095.5,1226.9 1092.4,1228.8" fill="none" stroke="#569852" stroke-width="8" stroke-linecap="round"/>
<g transform="translate(1150.4,1182.2) rotate(25.0) scale(0.855)"><path d="M-38.1,-44.7 C-38.6,-47.5 -42.5,-51.8 -40.9,-54.9 C-39.3,-58.0 -32.5,-61.2 -28.6,-63.2 C-24.7,-65.2 -21.5,-65.7 -17.7,-66.7 C-13.9,-67.7 -10.2,-68.8 -5.7,-69.0 C-1.2,-69.2 3.9,-68.8 9.1,-68.2 C14.3,-67.6 21.1,-66.7 25.7,-65.5 C30.3,-64.3 34.8,-64.9 36.6,-61.2 C38.4,-57.5 36.3,-47.4 36.4,-43.4 C36.5,-39.4 37.5,-40.2 37.2,-37.0 C36.9,-33.8 36.0,-28.0 34.7,-24.2 C33.4,-20.4 31.4,-17.4 29.4,-14.4 C27.4,-11.4 25.2,-8.6 22.6,-6.2 C20.1,-3.8 16.8,-1.5 14.1,0.0 C11.4,1.5 9.0,2.1 6.6,2.6 C4.2,3.1 3.6,4.5 -0.2,3.0 C-4.0,1.5 -12.3,-3.7 -16.4,-6.4 C-20.5,-9.1 -21.8,-9.8 -24.6,-13.2 C-27.4,-16.6 -30.9,-22.5 -33.1,-26.6 C-35.3,-30.7 -36.9,-35.0 -37.7,-38.0 C-38.5,-41.0 -37.6,-41.9 -38.1,-44.7Z" fill="#eee48a"/><path d="M-38.1,-44.7 C-39.1,-44.0 -38.5,-41.0 -37.7,-38.0 C-36.9,-35.0 -35.3,-30.7 -33.1,-26.6 C-30.9,-22.5 -27.4,-16.6 -24.6,-13.2 C-21.8,-9.8 -20.5,-9.1 -16.4,-6.4 C-12.3,-3.7 -4.0,1.5 -0.2,3.0 C3.6,4.5 4.2,3.1 6.6,2.6 C9.0,2.1 11.4,1.5 14.1,0.0 C16.8,-1.5 20.1,-3.8 22.6,-6.2 C25.2,-8.6 27.4,-11.4 29.4,-14.4 C31.4,-17.4 33.4,-20.4 34.7,-24.2 C36.0,-28.0 36.9,-33.8 37.2,-37.0 C37.5,-40.2 37.6,-42.7 36.4,-43.4 C35.2,-44.1 31.4,-43.6 30.0,-41.0 C28.6,-38.4 29.3,-32.0 28.0,-28.0 C26.7,-24.0 24.5,-20.2 22.0,-17.0 C19.5,-13.8 16.0,-11.0 13.0,-9.0 C10.0,-7.0 7.2,-5.5 4.0,-5.0 C0.8,-4.5 -2.7,-4.8 -6.0,-6.0 C-9.3,-7.2 -12.8,-9.5 -16.0,-12.0 C-19.2,-14.5 -22.7,-17.8 -25.0,-21.0 C-27.3,-24.2 -28.8,-27.5 -30.0,-31.0 C-31.2,-34.5 -30.6,-39.7 -32.0,-42.0 C-33.4,-44.3 -37.1,-45.4 -38.1,-44.7Z" fill="#569852"/><path d="M0,-6 Q-19.0,-20.0 -25.0,-48.1 M0,-6 Q-7.0,-22.0 -7.4,-49.8 M0,-6 Q8.0,-22.0 9.2,-48.5 M0,-6 Q18.0,-18.0 23.2,-46.3 M-35,-45 L-35,-45 M33.5,-43 L33.5,-43" fill="none" stroke="#569852" stroke-width="7.4" stroke-linecap="round"/></g>
<circle cx="1171.0" cy="1111.8" r="6.0" fill="#9fc63a"/>
<circle cx="1187.7" cy="1111.8" r="3.5" fill="#569852"/>
<circle cx="1196.0" cy="1123.2" r="3.5" fill="#9fc63a"/>
<circle cx="1184.6" cy="1120.0" r="2.2" fill="#eee48a"/>
<circle cx="1195.0" cy="1133.5" r="2.0" fill="#569852"/>
<g fill="none" stroke="#b8d34b" stroke-width="7">
<path d="M10,769.5 H622 C781,769.5 883,872 883,1031"/>
<path d="M2413,770.5 H1631 C1473,770.5 1368,872 1368,1031"/>
<path d="M10,1159.5 H852"/>
<path d="M1620,1160.5 H2413"/>
<path d="M12,1599 H1116"/>
<path d="M1577,1599.5 H2413"/>
</g>
<g stroke="#b8d34b" stroke-width="6.5" fill="#fff">
<circle cx="882.0" cy="1061.5" r="27.5"/>
<circle cx="882.0" cy="1159.0" r="27.5"/>
<circle cx="1367.3" cy="1061.5" r="27.5"/>
<circle cx="1589.5" cy="1161.0" r="27.5"/>
<circle cx="1146.5" cy="1598.0" r="27.5"/>
<circle cx="1546.5" cy="1598.0" r="27.5"/>
</g>
</svg></body></html>
